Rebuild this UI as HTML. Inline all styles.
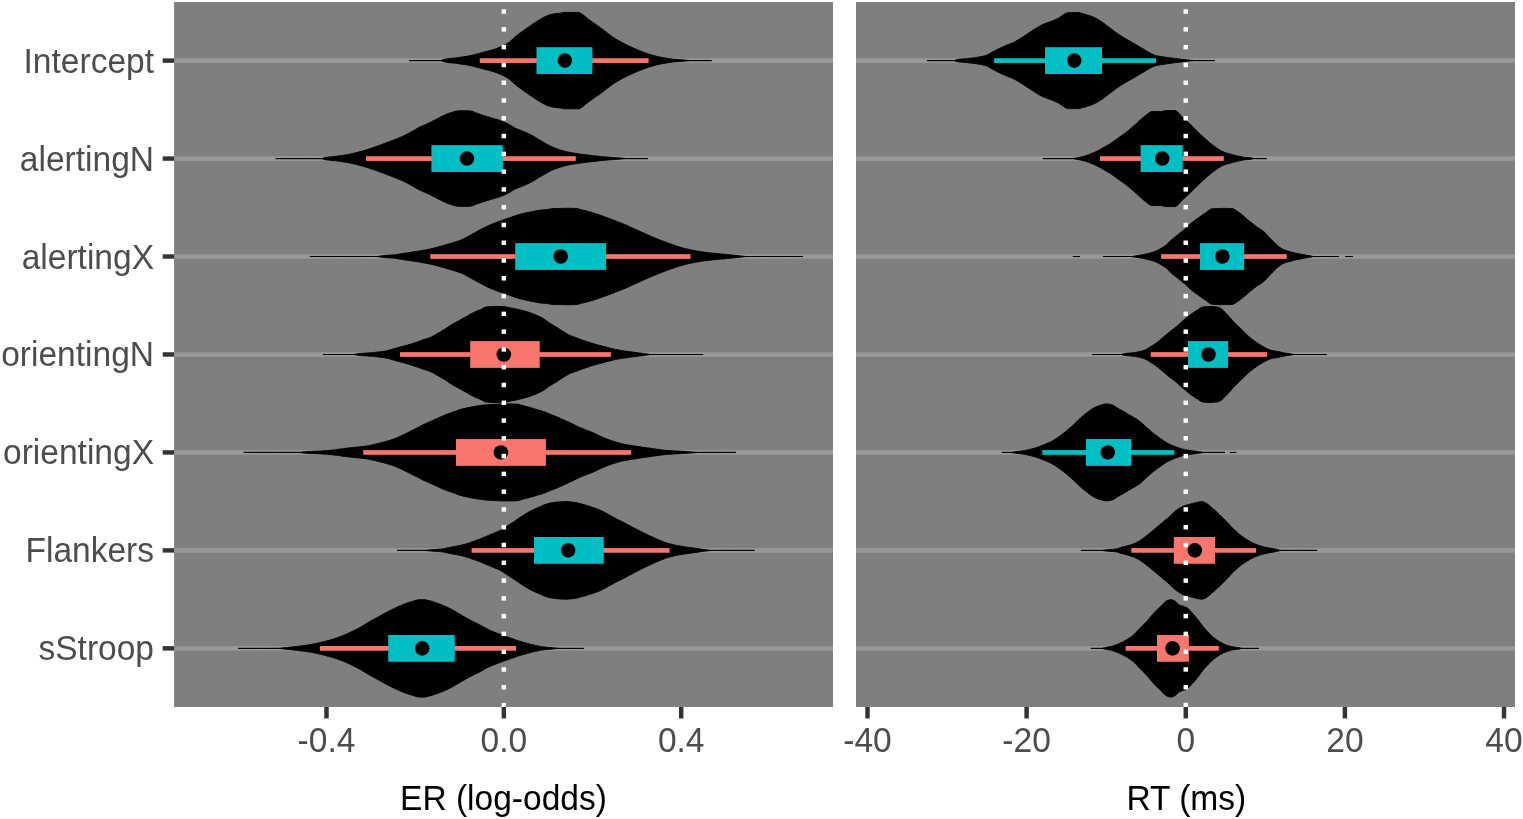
<!DOCTYPE html>
<html lang="en"><head><meta charset="utf-8"><title>Posterior estimates: ER (log-odds) and RT (ms)</title>
<style>html,body{margin:0;padding:0;background:#fff;}body{width:1523px;height:819px;overflow:hidden;}svg{display:block;}text{font-family:"Liberation Sans",Arial,Helvetica,sans-serif;font-size:33.33px;}.tk{fill:#4d4d4d;}.ti{fill:#000;}</style></head><body>
<svg width="1523" height="819" viewBox="0 0 1523 819">
<rect width="1523" height="819" fill="#fff"/>
<g>
<rect x="174.1" y="2.0" width="658.9" height="705.0" fill="#7f7f7f"/>
<rect x="174.1" y="58.38" width="658.9" height="4.45" fill="#999999"/>
<rect x="174.1" y="156.34" width="658.9" height="4.45" fill="#999999"/>
<rect x="174.1" y="254.29" width="658.9" height="4.45" fill="#999999"/>
<rect x="174.1" y="352.25" width="658.9" height="4.45" fill="#999999"/>
<rect x="174.1" y="450.21" width="658.9" height="4.45" fill="#999999"/>
<rect x="174.1" y="548.17" width="658.9" height="4.45" fill="#999999"/>
<rect x="174.1" y="646.13" width="658.9" height="4.45" fill="#999999"/>
<path d="M409.2,60.6 410.7,60.6 412.2,60.6 413.7,60.6 415.2,60.6 416.7,60.6 418.2,60.6 419.7,60.6 421.2,60.6 422.7,60.6 424.2,60.6 425.7,60.6 427.3,60.6 428.8,60.6 430.3,60.6 431.8,60.6 433.3,60.6 434.8,60.6 436.3,60.6 437.8,60.6 439.3,60.6 440.8,60.6 441.0,60.6 442.3,60.0 443.2,59.6 443.8,59.5 445.3,59.2 446.8,58.9 448.3,58.7 449.8,58.5 451.3,58.4 452.8,58.2 454.3,58.1 455.8,57.9 456.4,57.8 457.3,57.7 458.8,57.5 460.4,57.2 461.9,57.0 463.4,56.8 464.9,56.6 466.4,56.4 467.9,56.1 469.4,55.8 469.6,55.8 470.9,55.5 472.4,55.2 473.9,54.8 475.4,54.4 476.9,54.0 478.4,53.6 479.9,53.2 481.4,52.8 482.7,52.4 482.9,52.3 484.4,51.9 485.9,51.6 487.4,51.2 488.9,50.8 490.4,50.4 491.9,50.0 493.5,49.5 495.0,49.0 495.9,48.7 496.5,48.5 498.0,47.9 499.5,47.3 501.0,46.7 502.5,46.0 504.0,45.3 505.5,44.5 507.0,43.6 508.5,42.7 509.1,42.3 510.0,41.6 511.5,40.3 513.0,38.8 514.5,37.3 515.0,36.9 516.0,36.1 517.5,34.9 519.0,33.8 520.5,32.7 521.6,31.9 522.0,31.6 523.5,30.5 525.0,29.5 526.5,28.4 528.1,27.4 528.2,27.3 529.6,26.3 531.1,25.3 532.6,24.2 534.1,23.2 534.8,22.7 535.6,22.2 537.1,21.2 538.6,20.3 540.1,19.4 541.4,18.7 541.6,18.6 543.1,17.7 544.6,16.9 546.1,16.2 547.6,15.5 548.0,15.4 549.1,15.0 550.6,14.6 552.1,14.3 553.6,14.0 554.6,13.8 555.1,13.7 556.6,13.6 558.1,13.4 559.6,13.3 561.1,13.1 561.2,13.1 562.7,12.7 564.2,12.4 564.4,12.4 565.7,12.4 567.2,12.4 568.7,12.4 570.2,12.4 571.7,12.4 573.2,12.4 574.7,12.4 576.2,12.4 577.7,12.4 578.9,12.4 579.2,12.4 580.7,13.3 580.9,13.4 582.2,14.2 583.7,15.4 585.2,16.6 586.7,17.8 587.5,18.4 588.2,19.0 589.7,20.1 591.2,21.2 592.7,22.3 594.1,23.3 594.3,23.4 595.8,24.5 597.3,25.5 598.8,26.5 600.3,27.6 600.7,27.9 601.8,28.7 603.3,29.8 604.8,31.0 606.3,32.1 607.3,32.9 607.8,33.3 609.3,34.4 610.8,35.5 612.3,36.7 613.8,37.7 615.0,38.5 615.3,38.7 616.8,39.6 618.3,40.5 619.8,41.3 621.3,42.1 622.8,42.9 623.2,43.1 624.3,43.7 625.8,44.5 627.3,45.2 628.9,46.0 630.4,46.7 631.9,47.4 633.4,48.1 634.9,48.7 636.4,49.4 636.4,49.4 637.9,50.0 639.4,50.6 640.9,51.2 642.4,51.8 643.9,52.4 645.4,52.9 646.9,53.4 648.4,53.9 649.6,54.3 649.9,54.4 651.4,54.8 652.9,55.3 654.4,55.7 655.9,56.1 657.4,56.5 658.9,56.8 660.4,57.2 662.0,57.5 662.7,57.6 663.5,57.7 665.0,58.0 666.5,58.2 668.0,58.5 669.5,58.7 671.0,58.9 672.5,59.1 674.0,59.3 675.5,59.4 675.9,59.5 677.0,59.5 678.5,59.6 680.0,59.7 681.5,59.8 683.0,59.9 684.5,60.0 685.8,60.1 686.0,60.1 687.5,60.3 689.0,60.5 690.0,60.6 690.5,60.6 692.0,60.6 693.5,60.6 695.1,60.6 696.6,60.6 698.1,60.6 699.6,60.6 701.1,60.6 702.6,60.6 704.1,60.6 705.6,60.6 707.1,60.6 708.6,60.6 710.1,60.6 711.6,60.6 L711.6,60.6 710.1,60.6 708.6,60.6 707.1,60.6 705.6,60.6 704.1,60.6 702.6,60.6 701.1,60.6 699.6,60.6 698.1,60.6 696.6,60.6 695.1,60.6 693.5,60.6 692.0,60.6 690.5,60.6 690.0,60.6 689.0,60.7 687.5,60.9 686.0,61.1 685.8,61.1 684.5,61.2 683.0,61.3 681.5,61.4 680.0,61.5 678.5,61.6 677.0,61.7 675.9,61.8 675.5,61.8 674.0,61.9 672.5,62.1 671.0,62.3 669.5,62.5 668.0,62.7 666.5,63.0 665.0,63.2 663.5,63.5 662.7,63.6 662.0,63.7 660.4,64.0 658.9,64.4 657.4,64.7 655.9,65.1 654.4,65.5 652.9,65.9 651.4,66.4 649.9,66.8 649.6,66.9 648.4,67.3 646.9,67.8 645.4,68.3 643.9,68.8 642.4,69.4 640.9,70.0 639.4,70.6 637.9,71.2 636.4,71.8 636.4,71.8 634.9,72.5 633.4,73.1 631.9,73.8 630.4,74.5 628.9,75.2 627.3,76.0 625.8,76.7 624.3,77.5 623.2,78.1 622.8,78.3 621.3,79.1 619.8,79.9 618.3,80.7 616.8,81.6 615.3,82.5 615.0,82.7 613.8,83.5 612.3,84.5 610.8,85.7 609.3,86.8 607.8,87.9 607.3,88.3 606.3,89.1 604.8,90.2 603.3,91.4 601.8,92.5 600.7,93.3 600.3,93.6 598.8,94.7 597.3,95.7 595.8,96.7 594.3,97.8 594.1,97.9 592.7,98.9 591.2,100.0 589.7,101.1 588.2,102.2 587.5,102.8 586.7,103.4 585.2,104.6 583.7,105.8 582.2,107.0 580.9,107.8 580.7,107.9 579.2,108.8 578.9,108.8 577.7,108.8 576.2,108.8 574.7,108.8 573.2,108.8 571.7,108.8 570.2,108.8 568.7,108.8 567.2,108.8 565.7,108.8 564.4,108.8 564.2,108.8 562.7,108.5 561.2,108.1 561.1,108.1 559.6,107.9 558.1,107.8 556.6,107.6 555.1,107.5 554.6,107.4 553.6,107.2 552.1,106.9 550.6,106.6 549.1,106.2 548.0,105.8 547.6,105.7 546.1,105.0 544.6,104.3 543.1,103.5 541.6,102.6 541.4,102.5 540.1,101.8 538.6,100.9 537.1,100.0 535.6,99.0 534.8,98.5 534.1,98.0 532.6,97.0 531.1,95.9 529.6,94.9 528.2,93.9 528.1,93.8 526.5,92.8 525.0,91.7 523.5,90.7 522.0,89.6 521.6,89.3 520.5,88.5 519.0,87.4 517.5,86.3 516.0,85.1 515.0,84.3 514.5,83.9 513.0,82.4 511.5,80.9 510.0,79.6 509.1,78.9 508.5,78.5 507.0,77.6 505.5,76.7 504.0,75.9 502.5,75.2 501.0,74.5 499.5,73.9 498.0,73.3 496.5,72.7 495.9,72.5 495.0,72.2 493.5,71.7 491.9,71.2 490.4,70.8 488.9,70.4 487.4,70.0 485.9,69.6 484.4,69.3 482.9,68.9 482.7,68.8 481.4,68.4 479.9,68.0 478.4,67.6 476.9,67.2 475.4,66.8 473.9,66.4 472.4,66.0 470.9,65.7 469.6,65.4 469.4,65.4 467.9,65.1 466.4,64.8 464.9,64.6 463.4,64.4 461.9,64.2 460.4,64.0 458.8,63.7 457.3,63.5 456.4,63.4 455.8,63.3 454.3,63.1 452.8,63.0 451.3,62.8 449.8,62.7 448.3,62.5 446.8,62.3 445.3,62.0 443.8,61.7 443.2,61.6 442.3,61.2 441.0,60.6 440.8,60.6 439.3,60.6 437.8,60.6 436.3,60.6 434.8,60.6 433.3,60.6 431.8,60.6 430.3,60.6 428.8,60.6 427.3,60.6 425.7,60.6 424.2,60.6 422.7,60.6 421.2,60.6 419.7,60.6 418.2,60.6 416.7,60.6 415.2,60.6 413.7,60.6 412.2,60.6 410.7,60.6 409.2,60.6 Z" fill="#000" stroke="#000" stroke-width="1" stroke-linejoin="round"/>
<path d="M275.8,158.6 277.3,158.6 278.8,158.6 280.3,158.6 281.8,158.6 283.3,158.6 284.8,158.6 286.3,158.6 287.8,158.6 289.3,158.6 290.8,158.6 292.3,158.6 293.8,158.6 295.3,158.6 296.8,158.6 298.3,158.6 299.8,158.6 301.3,158.6 302.8,158.6 304.3,158.6 305.8,158.6 307.3,158.6 308.8,158.6 310.3,158.6 311.8,158.6 313.3,158.6 314.8,158.6 316.3,158.6 317.8,158.6 319.3,158.6 320.8,158.6 322.0,158.6 322.3,158.5 323.2,157.9 323.8,157.7 325.3,157.4 326.8,157.2 328.3,157.0 329.8,156.9 331.3,156.8 332.8,156.6 334.3,156.5 335.8,156.3 336.4,156.3 337.3,156.1 338.8,155.9 340.3,155.7 341.8,155.5 343.3,155.3 344.8,155.0 346.3,154.8 347.8,154.5 349.3,154.2 349.6,154.2 350.8,153.9 352.3,153.6 353.8,153.3 355.3,152.9 356.8,152.5 358.3,152.1 359.8,151.7 361.3,151.3 362.7,151.0 362.8,150.9 364.3,150.5 365.8,150.0 367.3,149.6 368.8,149.1 370.3,148.6 371.8,148.1 373.3,147.6 374.8,147.0 375.9,146.7 376.3,146.5 377.8,146.0 379.3,145.4 380.8,144.9 382.3,144.3 383.8,143.8 385.3,143.2 386.8,142.6 388.3,142.1 389.1,141.8 389.8,141.5 391.3,140.9 392.8,140.3 394.3,139.8 395.8,139.2 397.3,138.6 398.8,138.0 400.3,137.3 401.8,136.7 402.3,136.5 403.3,136.0 404.8,135.3 406.3,134.5 407.8,133.7 409.3,132.9 410.0,132.6 410.8,132.1 412.3,131.3 413.8,130.4 415.3,129.5 416.8,128.7 418.3,127.8 419.8,127.0 420.0,127.0 421.3,126.3 422.8,125.7 424.3,125.0 425.8,124.4 427.3,123.7 427.9,123.5 428.8,123.0 430.3,122.3 431.8,121.5 433.3,120.8 434.8,120.0 435.9,119.5 436.3,119.2 437.8,118.5 439.3,117.7 440.8,116.9 442.3,116.1 443.8,115.5 443.8,115.4 445.3,114.8 446.8,114.1 448.3,113.5 449.8,112.9 451.3,112.5 451.7,112.4 452.8,112.0 454.3,111.6 455.8,111.3 457.3,111.0 458.8,110.8 459.7,110.8 460.3,110.8 461.9,110.8 463.4,110.8 464.9,110.8 466.4,110.8 467.6,110.8 467.9,110.8 469.4,110.9 470.9,111.0 471.6,111.2 472.4,111.3 473.9,112.0 475.4,112.7 475.6,112.8 476.9,113.2 478.4,113.7 479.9,114.3 481.4,114.8 482.9,115.3 483.5,115.5 484.4,115.7 485.9,116.2 487.4,116.7 488.9,117.1 490.4,117.5 491.4,117.9 491.9,118.0 493.4,118.4 494.9,118.9 496.4,119.3 497.9,119.8 499.4,120.2 499.4,120.3 500.9,120.8 502.4,121.3 503.9,121.9 505.4,122.6 506.9,123.3 507.3,123.5 508.4,124.0 509.9,124.9 511.4,125.9 512.9,126.8 514.4,127.7 515.2,128.2 515.9,128.5 517.4,129.1 518.9,129.7 520.4,130.2 521.9,130.8 523.2,131.4 523.4,131.4 524.9,132.1 526.4,132.7 527.9,133.4 529.4,134.1 530.9,134.8 531.1,135.0 532.4,135.6 533.9,136.5 535.4,137.4 536.9,138.4 538.4,139.3 539.9,140.2 540.0,140.3 541.4,141.0 542.9,141.9 544.4,142.8 545.9,143.7 547.4,144.5 548.9,145.3 550.4,146.1 551.9,146.8 553.2,147.4 553.4,147.4 554.9,148.0 556.4,148.6 557.9,149.1 559.4,149.7 560.9,150.2 562.4,150.6 563.9,151.0 565.4,151.4 566.4,151.7 566.9,151.8 568.4,152.1 569.9,152.4 571.4,152.7 572.9,152.9 574.4,153.2 575.9,153.4 577.4,153.6 578.9,153.9 579.6,154.0 580.4,154.1 581.9,154.3 583.4,154.5 584.9,154.7 586.4,154.8 587.9,155.0 589.4,155.2 590.9,155.4 592.4,155.5 592.7,155.6 593.9,155.7 595.4,155.9 596.9,156.0 598.4,156.2 599.9,156.4 601.4,156.5 602.9,156.7 604.4,156.8 605.9,157.0 605.9,157.0 607.4,157.1 608.9,157.2 610.4,157.3 611.9,157.4 613.4,157.5 614.9,157.6 616.4,157.7 617.9,157.8 619.1,157.9 619.4,157.9 620.9,158.0 622.4,158.2 623.9,158.3 625.4,158.5 626.9,158.5 628.0,158.6 628.4,158.6 629.9,158.6 631.4,158.6 632.9,158.6 634.4,158.6 635.9,158.6 637.4,158.6 638.9,158.6 640.4,158.6 641.9,158.6 643.4,158.6 644.9,158.6 646.4,158.6 647.9,158.6 L647.9,158.6 646.4,158.6 644.9,158.6 643.4,158.6 641.9,158.6 640.4,158.6 638.9,158.6 637.4,158.6 635.9,158.6 634.4,158.6 632.9,158.6 631.4,158.6 629.9,158.6 628.4,158.6 628.0,158.6 626.9,158.6 625.4,158.7 623.9,158.8 622.4,158.9 620.9,159.1 619.4,159.2 619.1,159.3 617.9,159.3 616.4,159.4 614.9,159.5 613.4,159.6 611.9,159.7 610.4,159.8 608.9,159.9 607.4,160.0 605.9,160.2 605.9,160.2 604.4,160.3 602.9,160.4 601.4,160.6 599.9,160.7 598.4,160.9 596.9,161.1 595.4,161.3 593.9,161.4 592.7,161.6 592.4,161.6 590.9,161.8 589.4,161.9 587.9,162.1 586.4,162.3 584.9,162.5 583.4,162.7 581.9,162.8 580.4,163.0 579.6,163.2 578.9,163.3 577.4,163.5 575.9,163.7 574.4,163.9 572.9,164.2 571.4,164.5 569.9,164.7 568.4,165.0 566.9,165.4 566.4,165.5 565.4,165.7 563.9,166.1 562.4,166.5 560.9,167.0 559.4,167.5 557.9,168.0 556.4,168.5 554.9,169.1 553.4,169.7 553.2,169.8 551.9,170.3 550.4,171.0 548.9,171.8 547.4,172.6 545.9,173.5 544.4,174.3 542.9,175.2 541.4,176.1 540.0,176.9 539.9,176.9 538.4,177.8 536.9,178.7 535.4,179.7 533.9,180.6 532.4,181.5 531.1,182.2 530.9,182.3 529.4,183.0 527.9,183.7 526.4,184.4 524.9,185.0 523.4,185.7 523.2,185.8 521.9,186.3 520.4,186.9 518.9,187.4 517.4,188.0 515.9,188.7 515.2,189.0 514.4,189.4 512.9,190.3 511.4,191.2 509.9,192.2 508.4,193.1 507.3,193.7 506.9,193.9 505.4,194.6 503.9,195.2 502.4,195.8 500.9,196.3 499.4,196.9 499.4,196.9 497.9,197.4 496.4,197.8 494.9,198.3 493.4,198.7 491.9,199.1 491.4,199.3 490.4,199.6 488.9,200.0 487.4,200.5 485.9,200.9 484.4,201.4 483.5,201.7 482.9,201.9 481.4,202.4 479.9,202.9 478.4,203.4 476.9,203.9 475.6,204.4 475.4,204.5 473.9,205.1 472.4,205.8 471.6,206.0 470.9,206.1 469.4,206.3 467.9,206.4 467.6,206.4 466.4,206.4 464.9,206.4 463.4,206.4 461.9,206.4 460.3,206.4 459.7,206.4 458.8,206.3 457.3,206.2 455.8,205.9 454.3,205.5 452.8,205.1 451.7,204.8 451.3,204.7 449.8,204.2 448.3,203.6 446.8,203.0 445.3,202.3 443.8,201.7 443.8,201.7 442.3,201.0 440.8,200.2 439.3,199.5 437.8,198.7 436.3,197.9 435.9,197.7 434.8,197.1 433.3,196.4 431.8,195.6 430.3,194.8 428.8,194.1 427.9,193.7 427.3,193.4 425.8,192.7 424.3,192.1 422.8,191.5 421.3,190.8 420.0,190.2 419.8,190.1 418.3,189.3 416.8,188.5 415.3,187.6 413.8,186.7 412.3,185.9 410.8,185.0 410.0,184.6 409.3,184.2 407.8,183.4 406.3,182.6 404.8,181.9 403.3,181.1 402.3,180.7 401.8,180.5 400.3,179.8 398.8,179.2 397.3,178.5 395.8,178.0 394.3,177.4 392.8,176.8 391.3,176.2 389.8,175.6 389.1,175.4 388.3,175.1 386.8,174.5 385.3,173.9 383.8,173.3 382.3,172.8 380.8,172.2 379.3,171.7 377.8,171.1 376.3,170.6 375.9,170.5 374.8,170.1 373.3,169.6 371.8,169.1 370.3,168.5 368.8,168.0 367.3,167.6 365.8,167.1 364.3,166.6 362.8,166.2 362.7,166.2 361.3,165.8 359.8,165.4 358.3,165.0 356.8,164.6 355.3,164.2 353.8,163.9 352.3,163.5 350.8,163.2 349.6,163.0 349.3,162.9 347.8,162.6 346.3,162.4 344.8,162.1 343.3,161.9 341.8,161.6 340.3,161.4 338.8,161.2 337.3,161.0 336.4,160.9 335.8,160.8 334.3,160.6 332.8,160.5 331.3,160.4 329.8,160.2 328.3,160.1 326.8,159.9 325.3,159.7 323.8,159.4 323.2,159.3 322.3,158.7 322.0,158.6 320.8,158.6 319.3,158.6 317.8,158.6 316.3,158.6 314.8,158.6 313.3,158.6 311.8,158.6 310.3,158.6 308.8,158.6 307.3,158.6 305.8,158.6 304.3,158.6 302.8,158.6 301.3,158.6 299.8,158.6 298.3,158.6 296.8,158.6 295.3,158.6 293.8,158.6 292.3,158.6 290.8,158.6 289.3,158.6 287.8,158.6 286.3,158.6 284.8,158.6 283.3,158.6 281.8,158.6 280.3,158.6 278.8,158.6 277.3,158.6 275.8,158.6 Z" fill="#000" stroke="#000" stroke-width="1" stroke-linejoin="round"/>
<path d="M309.9,256.5 311.4,256.5 312.9,256.5 314.4,256.5 315.9,256.5 317.4,256.5 318.9,256.5 320.4,256.5 321.9,256.5 323.4,256.5 324.9,256.5 326.4,256.5 327.9,256.5 329.4,256.5 330.9,256.5 332.5,256.5 334.0,256.5 335.5,256.5 337.0,256.5 338.5,256.5 340.0,256.5 341.5,256.5 343.0,256.5 344.5,256.5 346.0,256.5 347.5,256.5 349.0,256.5 350.5,256.5 352.0,256.5 353.5,256.5 355.0,256.5 356.5,256.5 358.0,256.5 359.5,256.5 361.0,256.5 362.5,256.5 364.0,256.5 365.5,256.5 367.0,256.5 368.5,256.5 370.0,256.5 371.5,256.5 373.0,256.5 374.5,256.5 375.5,256.5 376.0,256.5 377.6,256.4 379.1,256.2 380.6,256.0 382.1,255.8 383.6,255.6 384.0,255.5 385.1,255.4 386.6,255.3 388.1,255.2 389.6,255.1 391.1,255.0 392.6,254.9 394.1,254.8 395.0,254.7 395.6,254.7 397.1,254.5 398.6,254.2 400.1,254.0 401.6,253.7 403.1,253.5 404.6,253.2 404.6,253.2 406.1,253.0 407.6,252.8 409.1,252.5 410.6,252.3 412.1,252.1 413.6,251.9 415.1,251.6 416.6,251.4 417.7,251.2 418.1,251.1 419.6,250.9 421.1,250.6 422.7,250.4 424.2,250.1 425.7,249.9 427.2,249.6 428.7,249.3 430.2,249.0 430.9,248.8 431.7,248.6 433.2,248.3 434.7,247.9 436.2,247.5 437.7,247.1 439.2,246.7 440.7,246.3 442.2,245.9 443.7,245.4 444.1,245.3 445.2,245.0 446.7,244.6 448.2,244.1 449.7,243.7 451.2,243.2 452.7,242.8 454.2,242.3 455.7,241.8 457.2,241.3 457.3,241.3 458.7,240.9 460.0,240.4 460.2,240.3 461.7,239.7 463.2,239.0 464.7,238.2 466.2,237.4 467.2,236.9 467.8,236.6 469.3,235.8 470.8,235.0 472.3,234.1 473.8,233.3 474.4,232.9 475.3,232.4 476.8,231.6 478.3,230.8 479.8,230.0 481.3,229.2 481.7,229.0 482.8,228.5 484.3,227.7 485.8,226.9 487.3,226.2 488.8,225.5 488.9,225.4 490.3,224.8 491.8,224.2 493.3,223.6 494.8,223.0 496.1,222.5 496.3,222.4 497.8,221.9 499.3,221.3 500.8,220.8 502.3,220.3 503.3,219.9 503.8,219.7 505.3,219.2 506.8,218.7 508.3,218.2 509.8,217.7 510.6,217.4 511.3,217.2 512.9,216.6 514.4,216.1 515.9,215.5 517.4,215.1 517.8,214.9 518.9,214.6 520.4,214.2 521.9,213.8 523.4,213.5 524.9,213.1 525.0,213.1 526.4,212.8 527.9,212.5 529.4,212.2 530.9,211.9 532.2,211.6 532.4,211.6 533.9,211.3 535.4,210.9 536.9,210.6 538.4,210.4 539.4,210.2 539.9,210.2 541.4,210.0 542.9,209.9 544.4,209.7 545.9,209.6 546.7,209.5 547.4,209.4 548.9,209.2 550.4,208.9 551.9,208.7 553.4,208.5 553.9,208.5 554.9,208.5 556.5,208.5 558.0,208.5 559.5,208.4 561.0,208.4 561.1,208.4 562.5,208.4 564.0,208.4 565.5,208.3 567.0,208.3 567.2,208.3 568.5,208.3 570.0,208.3 571.5,208.4 573.0,208.4 574.4,208.4 574.5,208.4 576.0,208.5 577.5,208.7 578.1,208.8 579.0,209.0 580.5,209.5 581.7,209.8 582.0,209.9 583.5,210.3 585.0,210.6 586.5,211.0 588.0,211.4 588.9,211.6 589.5,211.8 591.0,212.2 592.5,212.7 594.0,213.2 595.5,213.6 596.1,213.8 597.0,214.1 598.5,214.6 600.0,215.2 601.6,215.7 603.1,216.2 603.3,216.3 604.6,216.8 606.1,217.3 607.6,217.8 609.1,218.4 610.6,218.9 610.6,218.9 612.1,219.5 613.6,220.1 615.1,220.7 616.6,221.3 617.8,221.8 618.1,221.9 619.6,222.5 621.1,223.1 622.6,223.7 624.1,224.2 625.0,224.6 625.6,224.9 627.1,225.5 628.6,226.2 630.1,227.0 631.6,227.7 632.2,227.9 633.1,228.3 634.6,229.0 636.1,229.7 637.6,230.3 639.1,231.0 639.4,231.1 640.6,231.7 642.1,232.4 643.6,233.0 645.1,233.7 646.7,234.4 646.7,234.4 648.2,235.1 649.7,235.7 651.2,236.4 652.7,237.0 653.9,237.5 654.2,237.6 655.7,238.3 657.2,238.9 658.7,239.5 660.2,240.1 661.1,240.4 661.7,240.6 663.2,241.2 664.7,241.8 666.2,242.3 667.7,242.9 669.2,243.4 670.0,243.7 670.7,244.0 672.2,244.5 673.7,245.0 675.2,245.6 676.7,246.1 678.2,246.6 679.7,247.0 681.2,247.5 681.4,247.5 682.7,247.9 684.2,248.3 685.7,248.7 687.2,249.0 688.7,249.4 690.2,249.7 691.8,250.1 693.3,250.4 694.6,250.6 694.8,250.6 696.3,250.9 697.8,251.2 699.3,251.4 700.8,251.7 702.3,251.9 703.8,252.1 705.3,252.3 706.8,252.5 707.7,252.6 708.3,252.7 709.8,252.9 711.3,253.0 712.8,253.2 714.3,253.3 715.8,253.5 717.3,253.6 718.8,253.7 720.3,253.9 720.9,253.9 721.8,254.0 723.3,254.1 724.8,254.3 726.3,254.4 727.5,254.5 727.8,254.6 729.3,254.7 730.8,254.9 732.3,255.0 733.8,255.2 735.3,255.3 736.9,255.5 738.4,255.7 739.9,255.8 740.0,255.8 741.4,256.0 742.9,256.2 744.4,256.3 745.9,256.5 747.4,256.5 747.5,256.5 748.9,256.5 750.4,256.5 751.9,256.5 753.4,256.5 754.9,256.5 756.4,256.5 757.9,256.5 759.4,256.5 760.9,256.5 762.4,256.5 763.9,256.5 765.4,256.5 766.9,256.5 768.4,256.5 769.9,256.5 771.4,256.5 772.9,256.5 774.4,256.5 775.9,256.5 777.4,256.5 778.9,256.5 780.4,256.5 782.0,256.5 783.5,256.5 785.0,256.5 786.5,256.5 788.0,256.5 789.5,256.5 791.0,256.5 792.5,256.5 794.0,256.5 795.5,256.5 797.0,256.5 798.5,256.5 800.0,256.5 801.5,256.5 803.0,256.5 L803.0,256.5 801.5,256.5 800.0,256.5 798.5,256.5 797.0,256.5 795.5,256.5 794.0,256.5 792.5,256.5 791.0,256.5 789.5,256.5 788.0,256.5 786.5,256.5 785.0,256.5 783.5,256.5 782.0,256.5 780.4,256.5 778.9,256.5 777.4,256.5 775.9,256.5 774.4,256.5 772.9,256.5 771.4,256.5 769.9,256.5 768.4,256.5 766.9,256.5 765.4,256.5 763.9,256.5 762.4,256.5 760.9,256.5 759.4,256.5 757.9,256.5 756.4,256.5 754.9,256.5 753.4,256.5 751.9,256.5 750.4,256.5 748.9,256.5 747.5,256.5 747.4,256.5 745.9,256.6 744.4,256.7 742.9,256.9 741.4,257.1 740.0,257.2 739.9,257.2 738.4,257.4 736.9,257.5 735.3,257.7 733.8,257.9 732.3,258.0 730.8,258.2 729.3,258.3 727.8,258.5 727.5,258.5 726.3,258.6 724.8,258.8 723.3,258.9 721.8,259.0 720.9,259.1 720.3,259.2 718.8,259.3 717.3,259.5 715.8,259.6 714.3,259.7 712.8,259.9 711.3,260.0 709.8,260.2 708.3,260.4 707.7,260.4 706.8,260.5 705.3,260.7 703.8,260.9 702.3,261.1 700.8,261.4 699.3,261.6 697.8,261.9 696.3,262.1 694.8,262.4 694.6,262.4 693.3,262.7 691.8,263.0 690.2,263.3 688.7,263.6 687.2,264.0 685.7,264.4 684.2,264.8 682.7,265.2 681.4,265.5 681.2,265.6 679.7,266.0 678.2,266.5 676.7,267.0 675.2,267.5 673.7,268.0 672.2,268.5 670.7,269.1 670.0,269.3 669.2,269.6 667.7,270.1 666.2,270.7 664.7,271.3 663.2,271.8 661.7,272.4 661.1,272.6 660.2,273.0 658.7,273.6 657.2,274.2 655.7,274.8 654.2,275.4 653.9,275.5 652.7,276.0 651.2,276.7 649.7,277.3 648.2,278.0 646.7,278.6 646.7,278.6 645.1,279.3 643.6,280.0 642.1,280.7 640.6,281.4 639.4,281.9 639.1,282.0 637.6,282.7 636.1,283.4 634.6,284.0 633.1,284.7 632.2,285.1 631.6,285.4 630.1,286.1 628.6,286.8 627.1,287.5 625.6,288.2 625.0,288.4 624.1,288.8 622.6,289.4 621.1,290.0 619.6,290.5 618.1,291.1 617.8,291.2 616.6,291.7 615.1,292.3 613.6,292.9 612.1,293.5 610.6,294.1 610.6,294.1 609.1,294.7 607.6,295.2 606.1,295.8 604.6,296.3 603.3,296.7 603.1,296.8 601.6,297.3 600.0,297.9 598.5,298.4 597.0,298.9 596.1,299.2 595.5,299.4 594.0,299.9 592.5,300.4 591.0,300.8 589.5,301.2 588.9,301.4 588.0,301.7 586.5,302.0 585.0,302.4 583.5,302.8 582.0,303.1 581.7,303.2 580.5,303.6 579.0,304.0 578.1,304.2 577.5,304.3 576.0,304.5 574.5,304.6 574.4,304.6 573.0,304.7 571.5,304.7 570.0,304.7 568.5,304.7 567.2,304.7 567.0,304.7 565.5,304.7 564.0,304.7 562.5,304.6 561.1,304.6 561.0,304.6 559.5,304.6 558.0,304.6 556.5,304.6 554.9,304.5 553.9,304.5 553.4,304.5 551.9,304.4 550.4,304.1 548.9,303.9 547.4,303.6 546.7,303.5 545.9,303.4 544.4,303.3 542.9,303.2 541.4,303.0 539.9,302.9 539.4,302.8 538.4,302.7 536.9,302.4 535.4,302.1 533.9,301.8 532.4,301.5 532.2,301.4 530.9,301.2 529.4,300.9 527.9,300.5 526.4,300.2 525.0,299.9 524.9,299.9 523.4,299.5 521.9,299.2 520.4,298.8 518.9,298.4 517.8,298.1 517.4,298.0 515.9,297.5 514.4,297.0 512.9,296.4 511.3,295.9 510.6,295.6 509.8,295.4 508.3,294.8 506.8,294.3 505.3,293.8 503.8,293.3 503.3,293.1 502.3,292.8 500.8,292.2 499.3,291.7 497.8,291.2 496.3,290.6 496.1,290.5 494.8,290.0 493.3,289.4 491.8,288.9 490.3,288.2 488.9,287.6 488.8,287.6 487.3,286.9 485.8,286.1 484.3,285.4 482.8,284.6 481.7,284.0 481.3,283.8 479.8,283.0 478.3,282.2 476.8,281.4 475.3,280.6 474.4,280.1 473.8,279.8 472.3,278.9 470.8,278.1 469.3,277.2 467.8,276.4 467.2,276.1 466.2,275.6 464.7,274.8 463.2,274.1 461.7,273.4 460.2,272.7 460.0,272.6 458.7,272.2 457.3,271.7 457.2,271.7 455.7,271.2 454.2,270.7 452.7,270.3 451.2,269.8 449.7,269.4 448.2,268.9 446.7,268.5 445.2,268.0 444.1,267.7 443.7,267.6 442.2,267.2 440.7,266.8 439.2,266.3 437.7,265.9 436.2,265.5 434.7,265.1 433.2,264.7 431.7,264.4 430.9,264.2 430.2,264.1 428.7,263.8 427.2,263.5 425.7,263.2 424.2,262.9 422.7,262.7 421.1,262.4 419.6,262.1 418.1,261.9 417.7,261.8 416.6,261.6 415.1,261.4 413.6,261.2 412.1,260.9 410.6,260.7 409.1,260.5 407.6,260.3 406.1,260.1 404.6,259.8 404.6,259.8 403.1,259.6 401.6,259.3 400.1,259.1 398.6,258.8 397.1,258.6 395.6,258.4 395.0,258.3 394.1,258.2 392.6,258.1 391.1,258.0 389.6,257.9 388.1,257.8 386.6,257.7 385.1,257.6 384.0,257.5 383.6,257.5 382.1,257.3 380.6,257.1 379.1,256.8 377.6,256.6 376.0,256.5 375.5,256.5 374.5,256.5 373.0,256.5 371.5,256.5 370.0,256.5 368.5,256.5 367.0,256.5 365.5,256.5 364.0,256.5 362.5,256.5 361.0,256.5 359.5,256.5 358.0,256.5 356.5,256.5 355.0,256.5 353.5,256.5 352.0,256.5 350.5,256.5 349.0,256.5 347.5,256.5 346.0,256.5 344.5,256.5 343.0,256.5 341.5,256.5 340.0,256.5 338.5,256.5 337.0,256.5 335.5,256.5 334.0,256.5 332.5,256.5 330.9,256.5 329.4,256.5 327.9,256.5 326.4,256.5 324.9,256.5 323.4,256.5 321.9,256.5 320.4,256.5 318.9,256.5 317.4,256.5 315.9,256.5 314.4,256.5 312.9,256.5 311.4,256.5 309.9,256.5 Z" fill="#000" stroke="#000" stroke-width="1" stroke-linejoin="round"/>
<path d="M323.2,354.5 324.7,354.5 326.2,354.5 327.7,354.5 329.2,354.5 330.7,354.5 332.2,354.5 333.7,354.5 335.2,354.5 336.7,354.5 338.2,354.5 339.7,354.5 341.2,354.5 342.7,354.5 344.2,354.5 345.7,354.5 347.2,354.5 348.7,354.5 350.2,354.5 351.7,354.5 352.5,354.5 353.2,354.5 354.7,354.3 356.2,354.0 357.7,353.8 359.2,353.5 359.8,353.5 360.7,353.4 362.2,353.3 363.7,353.2 365.2,353.1 366.7,353.0 368.2,352.9 369.7,352.8 371.3,352.7 372.8,352.6 373.8,352.5 374.3,352.4 375.8,352.3 377.3,352.1 378.8,352.0 380.3,351.8 381.8,351.6 383.3,351.4 384.6,351.2 384.8,351.2 386.3,350.9 387.8,350.5 389.3,350.1 390.8,349.7 392.3,349.3 393.8,348.8 395.3,348.4 396.8,347.9 397.7,347.7 398.3,347.5 399.8,347.1 401.3,346.7 402.8,346.3 404.3,345.9 405.8,345.5 407.3,345.1 408.8,344.7 410.3,344.3 410.9,344.1 411.8,343.8 413.3,343.3 414.8,342.8 416.3,342.3 417.8,341.7 419.3,341.2 420.8,340.6 422.3,340.1 423.8,339.6 424.1,339.5 425.3,339.1 426.8,338.7 428.3,338.2 429.8,337.7 430.0,337.6 431.3,337.0 432.8,336.2 434.3,335.4 435.8,334.5 437.2,333.7 437.3,333.6 438.8,332.8 440.3,331.9 441.8,331.0 443.3,330.1 444.4,329.5 444.8,329.2 446.3,328.2 447.8,327.2 449.3,326.2 450.8,325.2 451.7,324.7 452.3,324.3 453.8,323.4 455.3,322.6 456.8,321.8 458.3,321.0 458.9,320.7 459.8,320.2 461.3,319.3 462.8,318.5 464.3,317.7 465.9,316.8 466.1,316.7 467.4,316.0 468.9,315.1 470.4,314.2 471.9,313.4 473.3,312.7 473.4,312.7 474.9,311.9 476.4,311.3 477.9,310.6 479.4,310.0 480.6,309.5 480.9,309.4 482.4,308.6 483.9,307.8 485.4,307.2 486.3,307.0 486.9,306.9 488.4,306.8 489.9,306.7 491.4,306.6 492.9,306.5 494.4,306.5 495.0,306.5 495.9,306.5 497.4,306.5 498.9,306.5 500.4,306.5 501.9,306.5 503.4,306.6 503.7,306.6 504.9,306.7 506.4,307.0 507.9,307.3 509.4,307.7 509.4,307.7 510.9,308.0 512.4,308.2 513.9,308.5 515.4,308.8 516.7,309.1 516.9,309.1 518.4,309.5 519.9,309.8 521.4,310.2 522.9,310.6 523.9,310.9 524.4,311.0 525.9,311.4 527.4,311.9 528.9,312.3 530.0,312.7 530.4,312.8 531.9,313.4 533.4,313.9 534.9,314.6 536.4,315.2 536.6,315.3 537.9,315.9 539.4,316.5 540.9,317.3 542.4,318.0 543.2,318.5 543.9,318.9 545.4,320.0 546.9,321.1 548.4,322.2 549.8,323.2 549.9,323.3 551.4,324.2 552.9,325.1 554.4,325.9 555.9,326.8 556.4,327.1 557.4,327.7 558.9,328.7 560.4,329.7 562.0,330.7 563.0,331.4 563.5,331.7 565.0,332.6 566.5,333.6 568.0,334.4 569.5,335.2 569.6,335.3 571.0,335.9 572.5,336.4 574.0,336.9 575.5,337.4 576.1,337.7 577.0,338.0 578.5,338.6 580.0,339.2 581.5,339.7 582.7,340.2 583.0,340.3 584.5,340.8 586.0,341.3 587.5,341.8 589.0,342.3 589.3,342.4 590.5,342.8 592.0,343.2 593.5,343.7 595.0,344.1 595.9,344.4 596.5,344.5 598.0,345.0 599.5,345.4 601.0,345.8 602.5,346.2 602.5,346.2 604.0,346.6 605.5,347.0 607.0,347.3 608.5,347.7 609.1,347.9 610.0,348.1 611.5,348.5 613.0,348.9 614.5,349.2 615.7,349.5 616.0,349.5 617.5,349.8 619.0,350.1 620.5,350.4 622.0,350.6 622.3,350.7 623.5,350.9 625.0,351.1 626.5,351.3 628.0,351.5 629.5,351.7 630.0,351.8 631.0,351.9 632.5,352.1 634.0,352.3 635.5,352.5 637.0,352.7 637.0,352.7 638.5,352.9 640.0,353.0 641.5,353.2 643.0,353.4 644.5,353.6 645.5,353.7 646.0,353.8 647.5,354.0 649.0,354.3 650.5,354.5 651.0,354.5 652.0,354.5 653.5,354.5 655.0,354.5 656.6,354.5 658.1,354.5 659.6,354.5 661.1,354.5 662.6,354.5 664.1,354.5 665.6,354.5 667.1,354.5 668.6,354.5 670.1,354.5 671.6,354.5 673.1,354.5 674.6,354.5 676.1,354.5 677.6,354.5 679.1,354.5 680.6,354.5 682.1,354.5 683.6,354.5 685.1,354.5 686.6,354.5 688.1,354.5 689.6,354.5 691.1,354.5 692.6,354.5 694.1,354.5 695.6,354.5 697.1,354.5 698.6,354.5 700.1,354.5 701.6,354.5 703.1,354.5 L703.1,354.5 701.6,354.5 700.1,354.5 698.6,354.5 697.1,354.5 695.6,354.5 694.1,354.5 692.6,354.5 691.1,354.5 689.6,354.5 688.1,354.5 686.6,354.5 685.1,354.5 683.6,354.5 682.1,354.5 680.6,354.5 679.1,354.5 677.6,354.5 676.1,354.5 674.6,354.5 673.1,354.5 671.6,354.5 670.1,354.5 668.6,354.5 667.1,354.5 665.6,354.5 664.1,354.5 662.6,354.5 661.1,354.5 659.6,354.5 658.1,354.5 656.6,354.5 655.0,354.5 653.5,354.5 652.0,354.5 651.0,354.5 650.5,354.5 649.0,354.7 647.5,354.9 646.0,355.2 645.5,355.3 644.5,355.4 643.0,355.6 641.5,355.8 640.0,355.9 638.5,356.1 637.0,356.3 637.0,356.3 635.5,356.5 634.0,356.7 632.5,356.8 631.0,357.0 630.0,357.2 629.5,357.2 628.0,357.4 626.5,357.7 625.0,357.9 623.5,358.1 622.3,358.3 622.0,358.3 620.5,358.6 619.0,358.8 617.5,359.1 616.0,359.4 615.7,359.5 614.5,359.7 613.0,360.1 611.5,360.5 610.0,360.9 609.1,361.1 608.5,361.2 607.0,361.6 605.5,362.0 604.0,362.4 602.5,362.8 602.5,362.8 601.0,363.2 599.5,363.6 598.0,364.0 596.5,364.4 595.9,364.6 595.0,364.8 593.5,365.3 592.0,365.7 590.5,366.2 589.3,366.6 589.0,366.7 587.5,367.2 586.0,367.7 584.5,368.2 583.0,368.7 582.7,368.8 581.5,369.2 580.0,369.8 578.5,370.4 577.0,371.0 576.1,371.3 575.5,371.5 574.0,372.0 572.5,372.6 571.0,373.1 569.6,373.7 569.5,373.7 568.0,374.5 566.5,375.4 565.0,376.3 563.5,377.3 563.0,377.6 562.0,378.2 560.4,379.2 558.9,380.2 557.4,381.2 556.4,381.9 555.9,382.2 554.4,383.0 552.9,383.9 551.4,384.8 549.9,385.7 549.8,385.8 548.4,386.7 546.9,387.9 545.4,389.0 543.9,390.0 543.2,390.5 542.4,390.9 540.9,391.7 539.4,392.4 537.9,393.1 536.6,393.7 536.4,393.8 534.9,394.4 533.4,395.0 531.9,395.6 530.4,396.1 530.0,396.3 528.9,396.6 527.4,397.1 525.9,397.5 524.4,397.9 523.9,398.1 522.9,398.3 521.4,398.7 519.9,399.1 518.4,399.5 516.9,399.8 516.7,399.9 515.4,400.2 513.9,400.4 512.4,400.7 510.9,401.0 509.4,401.3 509.4,401.3 507.9,401.6 506.4,402.0 504.9,402.3 503.7,402.4 503.4,402.4 501.9,402.4 500.4,402.4 498.9,402.5 497.4,402.5 495.9,402.5 495.0,402.5 494.4,402.5 492.9,402.4 491.4,402.4 489.9,402.3 488.4,402.2 486.9,402.0 486.3,402.0 485.4,401.8 483.9,401.2 482.4,400.4 480.9,399.6 480.6,399.5 479.4,398.9 477.9,398.3 476.4,397.7 474.9,397.0 473.4,396.3 473.3,396.3 471.9,395.5 470.4,394.7 468.9,393.9 467.4,393.0 466.1,392.3 465.9,392.1 464.3,391.3 462.8,390.5 461.3,389.6 459.8,388.8 458.9,388.3 458.3,388.0 456.8,387.2 455.3,386.3 453.8,385.5 452.3,384.7 451.7,384.3 450.8,383.7 449.3,382.8 447.8,381.7 446.3,380.7 444.8,379.7 444.4,379.5 443.3,378.8 441.8,377.9 440.3,377.1 438.8,376.2 437.3,375.3 437.2,375.3 435.8,374.5 434.3,373.6 432.8,372.7 431.3,372.0 430.0,371.4 429.8,371.3 428.3,370.8 426.8,370.3 425.3,369.9 424.1,369.5 423.8,369.4 422.3,368.9 420.8,368.3 419.3,367.8 417.8,367.2 416.3,366.7 414.8,366.2 413.3,365.7 411.8,365.2 410.9,364.9 410.3,364.7 408.8,364.3 407.3,363.8 405.8,363.4 404.3,363.0 402.8,362.6 401.3,362.2 399.8,361.8 398.3,361.4 397.7,361.3 396.8,361.0 395.3,360.6 393.8,360.1 392.3,359.7 390.8,359.2 389.3,358.8 387.8,358.4 386.3,358.1 384.8,357.8 384.6,357.8 383.3,357.6 381.8,357.4 380.3,357.2 378.8,357.0 377.3,356.8 375.8,356.7 374.3,356.5 373.8,356.5 372.8,356.4 371.3,356.3 369.7,356.2 368.2,356.1 366.7,356.0 365.2,355.9 363.7,355.8 362.2,355.7 360.7,355.6 359.8,355.5 359.2,355.4 357.7,355.2 356.2,354.9 354.7,354.7 353.2,354.5 352.5,354.5 351.7,354.5 350.2,354.5 348.7,354.5 347.2,354.5 345.7,354.5 344.2,354.5 342.7,354.5 341.2,354.5 339.7,354.5 338.2,354.5 336.7,354.5 335.2,354.5 333.7,354.5 332.2,354.5 330.7,354.5 329.2,354.5 327.7,354.5 326.2,354.5 324.7,354.5 323.2,354.5 Z" fill="#000" stroke="#000" stroke-width="1" stroke-linejoin="round"/>
<path d="M243.8,452.4 245.3,452.4 246.8,452.4 248.3,452.4 249.8,452.4 251.3,452.4 252.8,452.4 254.3,452.4 255.8,452.4 257.3,452.4 258.8,452.4 260.3,452.4 261.8,452.4 263.3,452.4 264.8,452.4 266.3,452.4 267.8,452.4 269.3,452.4 270.8,452.4 272.3,452.4 273.8,452.4 275.3,452.4 276.8,452.4 278.3,452.4 279.8,452.4 281.3,452.4 282.8,452.4 284.3,452.4 285.8,452.4 287.3,452.4 288.8,452.4 290.3,452.4 291.8,452.4 293.3,452.4 294.8,452.4 296.3,452.4 297.8,452.4 299.0,452.4 299.3,452.4 300.8,452.3 302.3,452.0 303.8,451.8 304.3,451.7 305.3,451.7 306.8,451.6 308.3,451.5 309.8,451.4 311.3,451.4 312.8,451.3 314.3,451.3 315.8,451.2 317.3,451.1 317.5,451.1 318.8,451.1 320.3,451.0 321.8,450.9 323.3,450.8 324.8,450.7 326.3,450.6 327.8,450.5 329.3,450.4 329.7,450.3 330.8,450.2 332.3,450.1 333.8,449.9 335.3,449.7 336.8,449.5 337.6,449.4 338.3,449.3 339.8,449.1 341.3,448.9 342.8,448.7 344.3,448.5 344.9,448.4 345.8,448.3 347.3,448.1 348.8,448.0 350.3,447.8 351.8,447.6 352.7,447.5 353.3,447.5 354.8,447.3 356.3,447.2 357.8,447.0 359.3,446.9 360.8,446.7 362.3,446.6 363.8,446.4 365.3,446.2 365.9,446.1 366.9,446.0 368.4,445.7 369.9,445.4 371.4,445.1 372.9,444.8 374.4,444.4 375.9,444.0 377.4,443.7 378.9,443.3 379.1,443.2 380.4,442.9 381.9,442.5 383.4,442.2 384.9,441.8 386.4,441.3 387.9,440.9 389.4,440.5 390.9,440.0 392.3,439.5 392.4,439.5 393.9,439.0 395.0,438.5 395.4,438.4 396.9,437.8 398.4,437.1 399.9,436.4 401.4,435.7 402.2,435.3 402.9,435.0 404.4,434.3 405.9,433.5 407.4,432.8 408.9,432.0 409.4,431.7 410.4,431.3 411.9,430.5 413.4,429.8 414.9,429.1 416.4,428.3 416.7,428.1 417.9,427.5 419.4,426.8 420.9,426.0 422.4,425.2 423.9,424.5 423.9,424.4 425.4,423.8 426.9,423.1 428.4,422.4 429.9,421.8 431.1,421.2 431.4,421.1 432.9,420.4 434.4,419.7 435.9,419.0 437.4,418.4 438.3,417.9 438.9,417.7 440.4,417.0 441.9,416.3 443.4,415.7 444.9,415.0 445.6,414.7 446.4,414.4 447.9,413.9 449.4,413.4 450.9,412.9 452.4,412.4 452.8,412.2 453.9,411.8 455.4,411.3 456.9,410.7 458.4,410.2 459.9,409.7 460.0,409.6 461.4,409.2 462.9,408.8 464.4,408.5 465.9,408.1 467.2,407.8 467.4,407.8 468.9,407.5 470.4,407.2 471.9,406.9 473.4,406.6 474.4,406.4 474.9,406.4 476.4,406.1 477.9,405.9 479.4,405.6 480.9,405.4 481.7,405.3 482.4,405.3 483.9,405.1 485.4,404.9 486.9,404.8 488.4,404.7 488.9,404.6 489.9,404.6 491.4,404.5 492.9,404.4 494.4,404.3 495.9,404.3 496.1,404.2 497.4,404.2 498.9,404.1 500.4,404.0 501.9,403.9 501.9,403.9 503.4,403.9 504.9,403.9 506.4,403.9 507.2,403.9 507.9,403.9 509.4,403.9 510.9,403.9 512.4,403.9 513.9,403.9 514.4,403.9 515.4,404.0 516.9,404.1 518.1,404.2 518.4,404.3 519.9,404.7 521.4,405.3 521.7,405.3 522.9,405.7 524.4,406.0 525.9,406.4 527.4,406.8 528.9,407.1 528.9,407.1 530.4,407.6 531.9,408.0 533.4,408.5 534.9,409.0 536.1,409.3 536.4,409.4 537.9,409.9 539.4,410.3 540.9,410.7 542.4,411.2 543.3,411.4 543.9,411.7 545.4,412.2 546.9,412.8 548.4,413.4 549.9,414.1 550.6,414.3 551.4,414.7 552.9,415.3 554.4,415.9 555.9,416.5 557.4,417.1 557.8,417.2 558.9,417.7 560.4,418.4 561.9,419.1 563.4,419.8 564.9,420.5 565.0,420.5 566.4,421.2 567.9,421.8 569.4,422.5 570.9,423.2 572.2,423.7 572.4,423.9 573.9,424.6 575.4,425.4 576.9,426.2 578.4,426.9 579.4,427.3 579.9,427.6 581.4,428.2 582.9,428.8 584.4,429.4 585.9,429.9 586.7,430.2 587.4,430.5 588.9,431.1 590.4,431.7 591.9,432.3 593.4,432.9 593.9,433.1 594.9,433.6 596.4,434.3 597.9,435.1 599.4,435.8 600.9,436.5 601.1,436.5 602.4,437.1 603.9,437.8 605.4,438.4 606.9,439.0 608.4,439.6 609.9,440.1 610.0,440.1 611.4,440.7 613.0,441.2 613.2,441.2 614.5,441.6 616.0,442.1 617.5,442.6 619.0,443.0 620.5,443.4 622.0,443.8 623.0,444.0 623.5,444.1 625.0,444.4 626.5,444.7 628.0,445.0 629.5,445.2 631.0,445.4 632.5,445.7 633.0,445.7 634.0,445.9 635.5,446.1 637.0,446.4 638.5,446.6 640.0,446.8 641.5,447.0 643.0,447.3 644.5,447.5 646.0,447.7 647.5,447.9 649.0,448.1 650.5,448.3 652.0,448.5 652.7,448.6 653.5,448.7 655.0,449.0 656.5,449.2 658.0,449.4 659.5,449.6 661.0,449.8 662.5,450.0 664.0,450.2 665.5,450.3 665.9,450.3 667.0,450.4 668.5,450.5 670.0,450.6 671.5,450.7 673.0,450.8 674.5,450.9 676.0,451.0 677.5,451.0 679.0,451.1 679.1,451.1 680.5,451.2 682.0,451.3 683.5,451.4 685.0,451.5 686.5,451.6 688.0,451.7 689.5,451.8 691.0,451.9 692.3,451.9 692.5,452.0 694.0,452.1 695.5,452.2 697.0,452.3 698.5,452.4 700.0,452.4 700.0,452.4 701.5,452.4 703.0,452.4 704.5,452.4 706.0,452.4 707.5,452.4 709.0,452.4 710.5,452.4 712.0,452.4 713.5,452.4 715.0,452.4 716.5,452.4 718.0,452.4 719.5,452.4 721.0,452.4 722.5,452.4 724.0,452.4 725.5,452.4 727.0,452.4 728.5,452.4 730.0,452.4 731.5,452.4 733.0,452.4 734.5,452.4 736.0,452.4 L736.0,452.4 734.5,452.4 733.0,452.4 731.5,452.4 730.0,452.4 728.5,452.4 727.0,452.4 725.5,452.4 724.0,452.4 722.5,452.4 721.0,452.4 719.5,452.4 718.0,452.4 716.5,452.4 715.0,452.4 713.5,452.4 712.0,452.4 710.5,452.4 709.0,452.4 707.5,452.4 706.0,452.4 704.5,452.4 703.0,452.4 701.5,452.4 700.0,452.4 700.0,452.4 698.5,452.5 697.0,452.6 695.5,452.7 694.0,452.8 692.5,452.9 692.3,452.9 691.0,453.0 689.5,453.1 688.0,453.2 686.5,453.3 685.0,453.4 683.5,453.5 682.0,453.6 680.5,453.7 679.1,453.7 679.0,453.7 677.5,453.8 676.0,453.9 674.5,454.0 673.0,454.1 671.5,454.2 670.0,454.3 668.5,454.3 667.0,454.5 665.9,454.5 665.5,454.6 664.0,454.7 662.5,454.9 661.0,455.1 659.5,455.3 658.0,455.5 656.5,455.7 655.0,455.9 653.5,456.1 652.7,456.2 652.0,456.3 650.5,456.5 649.0,456.8 647.5,457.0 646.0,457.2 644.5,457.4 643.0,457.6 641.5,457.8 640.0,458.1 638.5,458.3 637.0,458.5 635.5,458.8 634.0,459.0 633.0,459.1 632.5,459.2 631.0,459.5 629.5,459.7 628.0,459.9 626.5,460.2 625.0,460.4 623.5,460.7 623.0,460.8 622.0,461.1 620.5,461.5 619.0,461.9 617.5,462.3 616.0,462.8 614.5,463.2 613.2,463.6 613.0,463.7 611.4,464.2 610.0,464.7 609.9,464.8 608.4,465.3 606.9,465.9 605.4,466.5 603.9,467.1 602.4,467.8 601.1,468.3 600.9,468.4 599.4,469.1 597.9,469.8 596.4,470.6 594.9,471.3 593.9,471.7 593.4,471.9 591.9,472.6 590.4,473.2 588.9,473.8 587.4,474.3 586.7,474.6 585.9,474.9 584.4,475.5 582.9,476.1 581.4,476.7 579.9,477.3 579.4,477.5 578.4,478.0 576.9,478.7 575.4,479.5 573.9,480.3 572.4,481.0 572.2,481.1 570.9,481.7 569.4,482.4 567.9,483.0 566.4,483.7 565.0,484.3 564.9,484.4 563.4,485.1 561.9,485.8 560.4,486.5 558.9,487.1 557.8,487.6 557.4,487.8 555.9,488.4 554.4,489.0 552.9,489.6 551.4,490.2 550.6,490.5 549.9,490.8 548.4,491.4 546.9,492.1 545.4,492.7 543.9,493.2 543.3,493.4 542.4,493.7 540.9,494.2 539.4,494.6 537.9,495.0 536.4,495.4 536.1,495.5 534.9,495.9 533.4,496.4 531.9,496.8 530.4,497.3 528.9,497.7 528.9,497.7 527.4,498.1 525.9,498.5 524.4,498.8 522.9,499.2 521.7,499.5 521.4,499.6 519.9,500.2 518.4,500.6 518.1,500.6 516.9,500.8 515.4,500.9 514.4,500.9 513.9,500.9 512.4,500.9 510.9,500.9 509.4,500.9 507.9,500.9 507.2,500.9 506.4,500.9 504.9,500.9 503.4,500.9 501.9,500.9 501.9,500.9 500.4,500.9 498.9,500.8 497.4,500.7 496.1,500.6 495.9,500.6 494.4,500.6 492.9,500.5 491.4,500.4 489.9,500.3 488.9,500.2 488.4,500.2 486.9,500.1 485.4,499.9 483.9,499.8 482.4,499.6 481.7,499.5 480.9,499.4 479.4,499.2 477.9,499.0 476.4,498.8 474.9,498.5 474.4,498.4 473.4,498.3 471.9,498.0 470.4,497.7 468.9,497.4 467.4,497.1 467.2,497.0 465.9,496.7 464.4,496.4 462.9,496.0 461.4,495.6 460.0,495.2 459.9,495.2 458.4,494.7 456.9,494.2 455.4,493.6 453.9,493.0 452.8,492.6 452.4,492.5 450.9,492.0 449.4,491.5 447.9,491.0 446.4,490.4 445.6,490.1 444.9,489.9 443.4,489.2 441.9,488.6 440.4,487.9 438.9,487.2 438.3,486.9 437.4,486.5 435.9,485.8 434.4,485.1 432.9,484.5 431.4,483.8 431.1,483.6 429.9,483.1 428.4,482.4 426.9,481.8 425.4,481.1 423.9,480.4 423.9,480.4 422.4,479.7 420.9,478.9 419.4,478.1 417.9,477.3 416.7,476.7 416.4,476.6 414.9,475.8 413.4,475.1 411.9,474.4 410.4,473.6 409.4,473.1 408.9,472.9 407.4,472.1 405.9,471.4 404.4,470.6 402.9,469.9 402.2,469.5 401.4,469.1 399.9,468.5 398.4,467.8 396.9,467.1 395.4,466.5 395.0,466.3 393.9,465.9 392.4,465.4 392.3,465.3 390.9,464.9 389.4,464.4 387.9,464.0 386.4,463.5 384.9,463.1 383.4,462.7 381.9,462.3 380.4,462.0 379.1,461.6 378.9,461.6 377.4,461.2 375.9,460.8 374.4,460.5 372.9,460.1 371.4,459.8 369.9,459.4 368.4,459.1 366.9,458.9 365.9,458.7 365.3,458.7 363.8,458.5 362.3,458.3 360.8,458.1 359.3,458.0 357.8,457.8 356.3,457.7 354.8,457.6 353.3,457.4 352.7,457.3 351.8,457.2 350.3,457.1 348.8,456.9 347.3,456.7 345.8,456.6 344.9,456.4 344.3,456.4 342.8,456.2 341.3,456.0 339.8,455.7 338.3,455.5 337.6,455.4 336.8,455.3 335.3,455.2 333.8,455.0 332.3,454.8 330.8,454.6 329.7,454.5 329.3,454.5 327.8,454.4 326.3,454.3 324.8,454.2 323.3,454.1 321.8,454.0 320.3,453.9 318.8,453.8 317.5,453.7 317.3,453.7 315.8,453.7 314.3,453.6 312.8,453.5 311.3,453.5 309.8,453.4 308.3,453.4 306.8,453.3 305.3,453.2 304.3,453.1 303.8,453.1 302.3,452.9 300.8,452.6 299.3,452.4 299.0,452.4 297.8,452.4 296.3,452.4 294.8,452.4 293.3,452.4 291.8,452.4 290.3,452.4 288.8,452.4 287.3,452.4 285.8,452.4 284.3,452.4 282.8,452.4 281.3,452.4 279.8,452.4 278.3,452.4 276.8,452.4 275.3,452.4 273.8,452.4 272.3,452.4 270.8,452.4 269.3,452.4 267.8,452.4 266.3,452.4 264.8,452.4 263.3,452.4 261.8,452.4 260.3,452.4 258.8,452.4 257.3,452.4 255.8,452.4 254.3,452.4 252.8,452.4 251.3,452.4 249.8,452.4 248.3,452.4 246.8,452.4 245.3,452.4 243.8,452.4 Z" fill="#000" stroke="#000" stroke-width="1" stroke-linejoin="round"/>
<path d="M397.1,550.4 398.6,550.4 400.1,550.4 401.6,550.4 403.1,550.4 404.6,550.4 406.1,550.4 407.6,550.4 409.1,550.4 410.6,550.4 412.1,550.4 413.6,550.4 415.1,550.4 416.6,550.4 418.1,550.4 419.6,550.4 421.1,550.4 422.0,550.4 422.6,550.4 424.1,550.3 425.6,550.2 427.1,550.1 428.6,550.0 430.1,549.8 431.4,549.7 431.6,549.7 433.2,549.6 434.7,549.5 436.2,549.4 437.7,549.3 439.2,549.2 440.7,549.0 442.2,548.9 443.0,548.8 443.7,548.7 445.2,548.4 446.7,548.1 448.2,547.7 449.6,547.4 449.7,547.4 451.2,547.1 452.7,546.8 454.2,546.5 455.7,546.3 457.2,546.0 458.7,545.7 460.2,545.4 461.7,545.0 462.7,544.8 463.2,544.7 464.7,544.3 466.2,543.8 467.7,543.4 469.2,542.9 470.7,542.4 472.2,541.8 473.7,541.3 475.2,540.7 475.9,540.5 476.7,540.2 478.2,539.6 479.7,539.1 481.2,538.5 482.7,537.9 484.2,537.2 485.7,536.6 487.2,536.0 488.7,535.4 489.1,535.2 490.2,534.7 491.7,534.1 493.2,533.5 494.7,532.9 496.2,532.3 497.7,531.6 499.2,530.9 500.7,530.2 502.2,529.3 502.3,529.3 503.7,528.3 505.0,527.4 505.3,527.2 506.8,526.2 508.3,525.3 509.8,524.3 511.3,523.4 512.8,522.4 513.5,521.9 514.3,521.4 515.8,520.4 517.3,519.3 518.8,518.3 520.3,517.3 521.8,516.3 522.1,516.1 523.3,515.4 524.8,514.4 526.3,513.5 527.8,512.6 529.3,511.7 530.6,511.0 530.8,510.9 532.3,510.2 533.8,509.5 535.3,508.8 536.8,508.1 538.3,507.5 539.2,507.1 539.8,506.8 541.3,506.2 542.8,505.5 544.3,504.8 545.8,504.3 547.3,503.8 547.7,503.7 548.8,503.4 550.3,503.1 551.8,502.8 553.3,502.6 554.8,502.4 556.3,502.2 556.3,502.2 557.8,502.0 559.3,501.9 560.8,501.8 562.3,501.7 563.8,501.6 564.8,501.6 565.3,501.6 566.8,501.6 568.3,501.7 569.8,501.8 571.3,502.0 572.8,502.1 573.4,502.2 574.3,502.3 575.9,502.6 577.4,502.9 578.9,503.3 580.4,503.7 581.9,504.1 581.9,504.1 583.4,504.5 584.9,504.9 586.4,505.4 587.9,505.8 589.4,506.3 590.5,506.7 590.9,506.8 592.4,507.3 593.9,507.8 595.4,508.3 596.9,508.9 598.4,509.4 599.0,509.7 599.9,510.1 601.4,510.8 602.9,511.5 604.4,512.3 605.9,513.1 607.4,513.9 607.6,514.0 608.9,514.7 610.4,515.5 611.9,516.4 613.4,517.2 614.9,518.1 616.1,518.7 616.4,518.9 617.9,519.6 619.4,520.4 620.9,521.1 622.4,521.8 623.9,522.6 624.7,523.0 625.4,523.4 626.9,524.2 628.4,525.0 629.9,525.8 631.4,526.6 632.9,527.4 634.4,528.2 635.0,528.5 635.9,529.0 637.4,529.7 638.9,530.5 640.4,531.2 641.9,532.0 643.2,532.6 643.4,532.7 644.9,533.5 646.4,534.2 648.0,535.0 649.5,535.7 651.0,536.4 652.5,537.1 654.0,537.8 655.5,538.5 656.4,538.9 657.0,539.1 658.5,539.8 660.0,540.4 661.5,541.0 663.0,541.6 664.5,542.2 666.0,542.7 667.5,543.2 669.0,543.6 669.6,543.8 670.5,544.0 672.0,544.4 673.5,544.7 675.0,545.1 676.5,545.4 678.0,545.7 679.5,545.9 681.0,546.2 682.5,546.5 682.7,546.5 684.0,546.7 685.5,547.0 687.0,547.2 688.5,547.4 690.0,547.6 691.5,547.8 693.0,548.0 694.5,548.2 695.9,548.4 696.0,548.4 697.5,548.6 699.0,548.8 700.5,549.1 702.0,549.3 703.5,549.5 705.0,549.7 705.5,549.7 706.5,549.8 708.0,550.0 709.5,550.2 711.0,550.3 712.5,550.4 712.5,550.4 714.0,550.4 715.5,550.4 717.0,550.4 718.5,550.4 720.1,550.4 721.6,550.4 723.1,550.4 724.6,550.4 726.1,550.4 727.6,550.4 729.1,550.4 730.6,550.4 732.1,550.4 733.6,550.4 735.1,550.4 736.6,550.4 738.1,550.4 739.6,550.4 741.1,550.4 742.6,550.4 744.1,550.4 745.6,550.4 747.1,550.4 748.6,550.4 750.1,550.4 751.6,550.4 753.1,550.4 754.6,550.4 L754.6,550.4 753.1,550.4 751.6,550.4 750.1,550.4 748.6,550.4 747.1,550.4 745.6,550.4 744.1,550.4 742.6,550.4 741.1,550.4 739.6,550.4 738.1,550.4 736.6,550.4 735.1,550.4 733.6,550.4 732.1,550.4 730.6,550.4 729.1,550.4 727.6,550.4 726.1,550.4 724.6,550.4 723.1,550.4 721.6,550.4 720.1,550.4 718.5,550.4 717.0,550.4 715.5,550.4 714.0,550.4 712.5,550.4 712.5,550.4 711.0,550.5 709.5,550.6 708.0,550.8 706.5,551.0 705.5,551.1 705.0,551.1 703.5,551.3 702.0,551.5 700.5,551.7 699.0,552.0 697.5,552.2 696.0,552.4 695.9,552.4 694.5,552.6 693.0,552.8 691.5,553.0 690.0,553.2 688.5,553.4 687.0,553.6 685.5,553.8 684.0,554.1 682.7,554.3 682.5,554.3 681.0,554.6 679.5,554.9 678.0,555.1 676.5,555.4 675.0,555.7 673.5,556.1 672.0,556.4 670.5,556.8 669.6,557.0 669.0,557.2 667.5,557.6 666.0,558.1 664.5,558.6 663.0,559.2 661.5,559.8 660.0,560.4 658.5,561.0 657.0,561.7 656.4,561.9 655.5,562.3 654.0,563.0 652.5,563.7 651.0,564.4 649.5,565.1 648.0,565.8 646.4,566.6 644.9,567.3 643.4,568.1 643.2,568.2 641.9,568.8 640.4,569.6 638.9,570.3 637.4,571.1 635.9,571.8 635.0,572.3 634.4,572.6 632.9,573.4 631.4,574.2 629.9,575.0 628.4,575.8 626.9,576.6 625.4,577.4 624.7,577.8 623.9,578.2 622.4,579.0 620.9,579.7 619.4,580.4 617.9,581.2 616.4,581.9 616.1,582.1 614.9,582.7 613.4,583.6 611.9,584.4 610.4,585.3 608.9,586.1 607.6,586.8 607.4,586.9 605.9,587.7 604.4,588.5 602.9,589.3 601.4,590.0 599.9,590.7 599.0,591.1 598.4,591.4 596.9,591.9 595.4,592.5 593.9,593.0 592.4,593.5 590.9,594.0 590.5,594.1 589.4,594.5 587.9,595.0 586.4,595.4 584.9,595.9 583.4,596.3 581.9,596.7 581.9,596.7 580.4,597.1 578.9,597.5 577.4,597.9 575.9,598.2 574.3,598.5 573.4,598.6 572.8,598.7 571.3,598.8 569.8,599.0 568.3,599.1 566.8,599.2 565.3,599.2 564.8,599.2 563.8,599.2 562.3,599.1 560.8,599.0 559.3,598.9 557.8,598.8 556.3,598.6 556.3,598.6 554.8,598.4 553.3,598.2 551.8,598.0 550.3,597.7 548.8,597.4 547.7,597.1 547.3,597.0 545.8,596.5 544.3,596.0 542.8,595.3 541.3,594.6 539.8,594.0 539.2,593.7 538.3,593.3 536.8,592.7 535.3,592.0 533.8,591.3 532.3,590.6 530.8,589.9 530.6,589.8 529.3,589.1 527.8,588.2 526.3,587.3 524.8,586.4 523.3,585.4 522.1,584.7 521.8,584.5 520.3,583.5 518.8,582.5 517.3,581.5 515.8,580.4 514.3,579.4 513.5,578.9 512.8,578.4 511.3,577.4 509.8,576.5 508.3,575.5 506.8,574.6 505.3,573.6 505.0,573.4 503.7,572.5 502.3,571.5 502.2,571.5 500.7,570.6 499.2,569.9 497.7,569.2 496.2,568.5 494.7,567.9 493.2,567.3 491.7,566.7 490.2,566.1 489.1,565.6 488.7,565.4 487.2,564.8 485.7,564.2 484.2,563.6 482.7,562.9 481.2,562.3 479.7,561.7 478.2,561.2 476.7,560.6 475.9,560.3 475.2,560.1 473.7,559.5 472.2,559.0 470.7,558.4 469.2,557.9 467.7,557.4 466.2,557.0 464.7,556.5 463.2,556.1 462.7,556.0 461.7,555.8 460.2,555.4 458.7,555.1 457.2,554.8 455.7,554.5 454.2,554.3 452.7,554.0 451.2,553.7 449.7,553.4 449.6,553.4 448.2,553.1 446.7,552.7 445.2,552.4 443.7,552.1 443.0,552.0 442.2,551.9 440.7,551.8 439.2,551.6 437.7,551.5 436.2,551.4 434.7,551.3 433.2,551.2 431.6,551.1 431.4,551.1 430.1,551.0 428.6,550.8 427.1,550.7 425.6,550.6 424.1,550.5 422.6,550.4 422.0,550.4 421.1,550.4 419.6,550.4 418.1,550.4 416.6,550.4 415.1,550.4 413.6,550.4 412.1,550.4 410.6,550.4 409.1,550.4 407.6,550.4 406.1,550.4 404.6,550.4 403.1,550.4 401.6,550.4 400.1,550.4 398.6,550.4 397.1,550.4 Z" fill="#000" stroke="#000" stroke-width="1" stroke-linejoin="round"/>
<path d="M238.2,648.4 239.7,648.4 241.2,648.4 242.7,648.4 244.2,648.4 245.7,648.4 247.2,648.4 248.7,648.4 250.2,648.4 251.7,648.4 253.2,648.4 254.7,648.4 256.2,648.4 257.7,648.4 259.2,648.4 260.7,648.4 262.2,648.4 263.8,648.4 265.3,648.4 266.8,648.4 268.3,648.4 269.8,648.4 271.3,648.4 272.8,648.4 274.3,648.4 275.8,648.4 277.0,648.4 277.3,648.4 278.8,648.3 280.3,648.2 281.8,648.0 283.3,647.8 284.8,647.7 284.8,647.7 286.3,647.5 287.8,647.4 289.3,647.2 290.8,647.1 292.3,646.9 293.8,646.7 295.3,646.6 296.8,646.4 298.3,646.2 299.6,646.1 299.8,646.0 301.3,645.9 302.8,645.7 304.3,645.5 305.8,645.3 307.3,645.1 308.8,644.8 310.3,644.6 311.1,644.5 311.8,644.3 313.4,644.0 314.9,643.7 316.4,643.4 317.7,643.1 317.9,643.0 319.4,642.7 320.9,642.3 322.4,642.0 323.9,641.6 325.4,641.2 326.9,640.9 328.4,640.5 329.9,640.1 330.9,639.8 331.4,639.6 332.9,639.2 334.4,638.7 335.9,638.2 337.4,637.7 338.9,637.1 340.4,636.6 341.9,636.0 343.4,635.4 344.1,635.2 344.9,634.8 346.4,634.2 347.9,633.5 349.4,632.8 350.9,632.1 352.4,631.3 353.9,630.6 355.4,629.8 356.9,629.0 357.3,628.9 358.4,628.3 359.9,627.5 360.0,627.5 361.4,626.6 363.0,625.7 364.5,624.8 366.0,623.8 367.5,622.9 368.5,622.3 369.0,622.0 370.5,621.1 372.0,620.3 373.5,619.5 375.0,618.7 376.5,617.9 377.1,617.6 378.0,617.1 379.5,616.2 381.0,615.4 382.5,614.5 384.0,613.7 385.5,612.9 385.6,612.9 387.0,612.1 388.5,611.4 390.0,610.6 391.5,609.9 393.0,609.1 394.2,608.6 394.5,608.4 396.0,607.7 397.5,607.0 399.0,606.3 400.5,605.7 402.0,605.0 402.7,604.8 403.5,604.4 405.0,603.9 406.5,603.3 408.0,602.8 409.5,602.3 411.0,601.8 411.3,601.8 412.6,601.4 414.1,600.9 415.6,600.4 417.1,600.0 418.6,599.7 419.8,599.7 420.1,599.7 421.6,599.7 423.1,599.7 424.1,599.7 424.6,599.7 426.1,599.9 427.6,600.3 428.4,600.5 429.1,600.6 430.6,601.0 432.1,601.5 433.6,601.9 435.1,602.4 436.6,603.0 436.9,603.1 438.1,603.5 439.6,604.0 441.1,604.6 442.6,605.2 444.1,605.9 445.5,606.5 445.6,606.5 447.1,607.2 448.6,607.9 450.1,608.7 451.6,609.5 453.1,610.3 454.0,610.8 454.6,611.1 456.1,612.0 457.6,612.9 459.1,613.8 460.7,614.7 462.2,615.6 462.6,615.9 463.7,616.5 465.2,617.3 466.7,618.2 468.2,619.0 469.7,619.8 471.1,620.6 471.2,620.6 472.7,621.4 474.2,622.1 475.7,622.9 477.2,623.6 478.7,624.3 479.7,624.9 480.2,625.1 481.7,625.9 483.2,626.8 484.7,627.6 486.2,628.4 487.7,629.2 489.2,630.0 490.0,630.4 490.7,630.7 492.2,631.3 493.2,631.7 493.7,631.9 495.2,632.4 496.7,633.0 498.2,633.6 499.7,634.1 501.2,634.7 502.7,635.2 504.2,635.8 505.7,636.3 506.4,636.6 507.2,636.9 508.7,637.4 510.3,638.0 511.8,638.5 513.3,639.0 514.8,639.6 516.3,640.1 517.8,640.6 519.3,641.1 519.6,641.2 520.8,641.5 522.3,642.0 523.8,642.4 525.3,642.8 526.8,643.3 528.3,643.7 529.8,644.1 531.3,644.4 532.7,644.8 532.8,644.8 534.3,645.1 535.8,645.5 537.3,645.8 538.8,646.1 540.3,646.4 541.8,646.7 542.6,646.8 543.3,646.8 544.8,647.0 546.3,647.1 547.8,647.3 549.3,647.4 550.8,647.5 552.3,647.6 552.5,647.7 553.8,647.8 555.3,648.0 556.8,648.1 558.3,648.3 559.9,648.4 560.4,648.4 561.4,648.4 562.9,648.4 564.4,648.4 565.9,648.4 567.4,648.4 568.9,648.4 570.4,648.4 571.9,648.4 573.4,648.4 574.9,648.4 576.4,648.4 577.9,648.4 579.4,648.4 580.9,648.4 582.4,648.4 583.9,648.4 L583.9,648.4 582.4,648.4 580.9,648.4 579.4,648.4 577.9,648.4 576.4,648.4 574.9,648.4 573.4,648.4 571.9,648.4 570.4,648.4 568.9,648.4 567.4,648.4 565.9,648.4 564.4,648.4 562.9,648.4 561.4,648.4 560.4,648.4 559.9,648.4 558.3,648.4 556.8,648.6 555.3,648.7 553.8,648.9 552.5,649.1 552.3,649.1 550.8,649.2 549.3,649.3 547.8,649.4 546.3,649.6 544.8,649.7 543.3,649.9 542.6,650.0 541.8,650.1 540.3,650.3 538.8,650.6 537.3,650.9 535.8,651.2 534.3,651.6 532.8,651.9 532.7,652.0 531.3,652.3 529.8,652.7 528.3,653.1 526.8,653.5 525.3,653.9 523.8,654.3 522.3,654.8 520.8,655.2 519.6,655.6 519.3,655.7 517.8,656.1 516.3,656.6 514.8,657.2 513.3,657.7 511.8,658.2 510.3,658.8 508.7,659.3 507.2,659.9 506.4,660.2 505.7,660.4 504.2,660.9 502.7,661.5 501.2,662.0 499.7,662.6 498.2,663.1 496.7,663.7 495.2,664.3 493.7,664.9 493.2,665.1 492.2,665.4 490.7,666.1 490.0,666.4 489.2,666.7 487.7,667.5 486.2,668.3 484.7,669.1 483.2,670.0 481.7,670.8 480.2,671.6 479.7,671.9 478.7,672.4 477.2,673.1 475.7,673.9 474.2,674.6 472.7,675.3 471.2,676.1 471.1,676.2 469.7,676.9 468.2,677.7 466.7,678.6 465.2,679.4 463.7,680.3 462.6,680.9 462.2,681.1 460.7,682.0 459.1,682.9 457.6,683.8 456.1,684.7 454.6,685.6 454.0,686.0 453.1,686.4 451.6,687.2 450.1,688.0 448.6,688.8 447.1,689.5 445.6,690.2 445.5,690.3 444.1,690.9 442.6,691.5 441.1,692.1 439.6,692.7 438.1,693.2 436.9,693.7 436.6,693.8 435.1,694.3 433.6,694.8 432.1,695.3 430.6,695.7 429.1,696.1 428.4,696.3 427.6,696.5 426.1,696.8 424.6,697.0 424.1,697.1 423.1,697.1 421.6,697.1 420.1,697.1 419.8,697.1 418.6,697.0 417.1,696.7 415.6,696.3 414.1,695.8 412.6,695.3 411.3,695.0 411.0,694.9 409.5,694.4 408.0,693.9 406.5,693.4 405.0,692.9 403.5,692.3 402.7,692.0 402.0,691.7 400.5,691.1 399.0,690.4 397.5,689.7 396.0,689.0 394.5,688.3 394.2,688.2 393.0,687.6 391.5,686.9 390.0,686.1 388.5,685.4 387.0,684.6 385.6,683.9 385.5,683.8 384.0,683.0 382.5,682.2 381.0,681.3 379.5,680.5 378.0,679.6 377.1,679.2 376.5,678.8 375.0,678.0 373.5,677.2 372.0,676.4 370.5,675.6 369.0,674.7 368.5,674.5 367.5,673.8 366.0,672.9 364.5,672.0 363.0,671.0 361.4,670.1 360.0,669.3 359.9,669.2 358.4,668.4 357.3,667.9 356.9,667.7 355.4,666.9 353.9,666.2 352.4,665.4 350.9,664.7 349.4,663.9 347.9,663.2 346.4,662.5 344.9,661.9 344.1,661.6 343.4,661.3 341.9,660.7 340.4,660.1 338.9,659.6 337.4,659.0 335.9,658.5 334.4,658.0 332.9,657.6 331.4,657.1 330.9,657.0 329.9,656.7 328.4,656.3 326.9,655.9 325.4,655.5 323.9,655.1 322.4,654.7 320.9,654.4 319.4,654.0 317.9,653.7 317.7,653.7 316.4,653.4 314.9,653.0 313.4,652.7 311.8,652.4 311.1,652.3 310.3,652.1 308.8,651.9 307.3,651.7 305.8,651.5 304.3,651.2 302.8,651.1 301.3,650.9 299.8,650.7 299.6,650.7 298.3,650.5 296.8,650.3 295.3,650.2 293.8,650.0 292.3,649.8 290.8,649.7 289.3,649.5 287.8,649.4 286.3,649.2 284.8,649.1 284.8,649.1 283.3,648.9 281.8,648.7 280.3,648.6 278.8,648.4 277.3,648.4 277.0,648.4 275.8,648.4 274.3,648.4 272.8,648.4 271.3,648.4 269.8,648.4 268.3,648.4 266.8,648.4 265.3,648.4 263.8,648.4 262.2,648.4 260.7,648.4 259.2,648.4 257.7,648.4 256.2,648.4 254.7,648.4 253.2,648.4 251.7,648.4 250.2,648.4 248.7,648.4 247.2,648.4 245.7,648.4 244.2,648.4 242.7,648.4 241.2,648.4 239.7,648.4 238.2,648.4 Z" fill="#000" stroke="#000" stroke-width="1" stroke-linejoin="round"/>
<rect x="479.8" y="58.25" width="168.8" height="4.7" fill="#F8766D"/>
<rect x="536.5" y="47.20" width="55.8" height="26.8" fill="#00BFC4"/>
<circle cx="564.8" cy="60.60" r="7.3" fill="#000"/>
<rect x="366.1" y="156.21" width="209.7" height="4.7" fill="#F8766D"/>
<rect x="431.4" y="145.16" width="71.4" height="26.8" fill="#00BFC4"/>
<circle cx="466.9" cy="158.56" r="7.3" fill="#000"/>
<rect x="430.3" y="254.17" width="260.2" height="4.7" fill="#F8766D"/>
<rect x="515.2" y="243.12" width="90.9" height="26.8" fill="#00BFC4"/>
<circle cx="560.6" cy="256.52" r="7.3" fill="#000"/>
<rect x="400.0" y="352.13" width="210.9" height="4.7" fill="#F8766D"/>
<rect x="470.2" y="341.08" width="69.5" height="26.8" fill="#F8766D"/>
<circle cx="503.8" cy="354.48" r="7.3" fill="#000"/>
<rect x="363.2" y="450.09" width="268.0" height="4.7" fill="#F8766D"/>
<rect x="456.0" y="439.04" width="89.9" height="26.8" fill="#F8766D"/>
<circle cx="500.9" cy="452.44" r="7.3" fill="#000"/>
<rect x="471.6" y="548.05" width="197.9" height="4.7" fill="#F8766D"/>
<rect x="534.0" y="537.00" width="69.6" height="26.8" fill="#00BFC4"/>
<circle cx="568.1" cy="550.40" r="7.3" fill="#000"/>
<rect x="319.9" y="646.01" width="196.1" height="4.7" fill="#F8766D"/>
<rect x="388.2" y="634.96" width="66.5" height="26.8" fill="#00BFC4"/>
<circle cx="422.1" cy="648.36" r="7.3" fill="#000"/>
<rect x="501.62" y="702.80" width="4.45" height="4.20" fill="#fff"/>
<rect x="501.62" y="685.02" width="4.45" height="4.45" fill="#fff"/>
<rect x="501.62" y="667.24" width="4.45" height="4.45" fill="#fff"/>
<rect x="501.62" y="649.46" width="4.45" height="4.45" fill="#fff"/>
<rect x="501.62" y="631.68" width="4.45" height="4.45" fill="#fff"/>
<rect x="501.62" y="613.90" width="4.45" height="4.45" fill="#fff"/>
<rect x="501.62" y="596.12" width="4.45" height="4.45" fill="#fff"/>
<rect x="501.62" y="578.34" width="4.45" height="4.45" fill="#fff"/>
<rect x="501.62" y="560.56" width="4.45" height="4.45" fill="#fff"/>
<rect x="501.62" y="542.78" width="4.45" height="4.45" fill="#fff"/>
<rect x="501.62" y="525.00" width="4.45" height="4.45" fill="#fff"/>
<rect x="501.62" y="507.22" width="4.45" height="4.45" fill="#fff"/>
<rect x="501.62" y="489.44" width="4.45" height="4.45" fill="#fff"/>
<rect x="501.62" y="471.66" width="4.45" height="4.45" fill="#fff"/>
<rect x="501.62" y="453.88" width="4.45" height="4.45" fill="#fff"/>
<rect x="501.62" y="436.10" width="4.45" height="4.45" fill="#fff"/>
<rect x="501.62" y="418.32" width="4.45" height="4.45" fill="#fff"/>
<rect x="501.62" y="400.54" width="4.45" height="4.45" fill="#fff"/>
<rect x="501.62" y="382.76" width="4.45" height="4.45" fill="#fff"/>
<rect x="501.62" y="364.98" width="4.45" height="4.45" fill="#fff"/>
<rect x="501.62" y="347.20" width="4.45" height="4.45" fill="#fff"/>
<rect x="501.62" y="329.42" width="4.45" height="4.45" fill="#fff"/>
<rect x="501.62" y="311.64" width="4.45" height="4.45" fill="#fff"/>
<rect x="501.62" y="293.86" width="4.45" height="4.45" fill="#fff"/>
<rect x="501.62" y="276.08" width="4.45" height="4.45" fill="#fff"/>
<rect x="501.62" y="258.30" width="4.45" height="4.45" fill="#fff"/>
<rect x="501.62" y="240.52" width="4.45" height="4.45" fill="#fff"/>
<rect x="501.62" y="222.74" width="4.45" height="4.45" fill="#fff"/>
<rect x="501.62" y="204.96" width="4.45" height="4.45" fill="#fff"/>
<rect x="501.62" y="187.18" width="4.45" height="4.45" fill="#fff"/>
<rect x="501.62" y="169.40" width="4.45" height="4.45" fill="#fff"/>
<rect x="501.62" y="151.62" width="4.45" height="4.45" fill="#fff"/>
<rect x="501.62" y="133.84" width="4.45" height="4.45" fill="#fff"/>
<rect x="501.62" y="116.06" width="4.45" height="4.45" fill="#fff"/>
<rect x="501.62" y="98.28" width="4.45" height="4.45" fill="#fff"/>
<rect x="501.62" y="80.50" width="4.45" height="4.45" fill="#fff"/>
<rect x="501.62" y="62.72" width="4.45" height="4.45" fill="#fff"/>
<rect x="501.62" y="44.94" width="4.45" height="4.45" fill="#fff"/>
<rect x="501.62" y="27.16" width="4.45" height="4.45" fill="#fff"/>
<rect x="501.62" y="9.38" width="4.45" height="4.45" fill="#fff"/>
</g>
<g>
<rect x="856.0" y="2.0" width="659.0" height="705.0" fill="#7f7f7f"/>
<rect x="856.0" y="58.38" width="659.0" height="4.45" fill="#999999"/>
<rect x="856.0" y="156.34" width="659.0" height="4.45" fill="#999999"/>
<rect x="856.0" y="254.29" width="659.0" height="4.45" fill="#999999"/>
<rect x="856.0" y="352.25" width="659.0" height="4.45" fill="#999999"/>
<rect x="856.0" y="450.21" width="659.0" height="4.45" fill="#999999"/>
<rect x="856.0" y="548.17" width="659.0" height="4.45" fill="#999999"/>
<rect x="856.0" y="646.13" width="659.0" height="4.45" fill="#999999"/>
<path d="M927.1,60.6 928.6,60.6 930.1,60.6 931.6,60.6 933.1,60.6 934.6,60.6 936.1,60.6 937.6,60.6 939.1,60.6 940.7,60.6 942.2,60.6 943.7,60.6 945.2,60.6 946.7,60.6 948.2,60.6 949.7,60.6 951.2,60.6 952.7,60.6 954.2,60.6 955.0,60.6 955.6,59.9 955.7,59.8 957.2,59.5 958.7,59.3 960.2,59.1 961.7,59.0 963.2,58.9 964.7,58.8 966.1,58.7 966.2,58.7 967.8,58.5 969.3,58.3 970.8,58.2 972.3,58.0 973.8,57.8 975.3,57.6 976.0,57.5 976.8,57.4 978.3,57.1 979.8,56.9 981.3,56.6 982.8,56.3 984.3,55.9 985.8,55.5 985.9,55.5 987.3,54.9 988.8,54.1 990.3,53.2 991.8,52.3 992.5,51.9 993.4,51.5 994.9,50.7 996.4,49.9 997.9,49.2 999.1,48.6 999.4,48.5 1000.9,47.8 1002.4,47.1 1003.9,46.4 1005.4,45.7 1005.7,45.6 1006.9,45.1 1008.4,44.5 1009.9,44.0 1011.4,43.4 1012.3,43.0 1012.9,42.7 1014.4,42.0 1015.0,41.7 1015.9,41.2 1017.4,40.3 1019.0,39.4 1020.5,38.4 1022.0,37.5 1022.2,37.3 1023.5,36.5 1025.0,35.5 1026.5,34.5 1028.0,33.5 1029.4,32.6 1029.5,32.5 1031.0,31.6 1032.5,30.6 1034.0,29.6 1035.5,28.6 1036.7,27.9 1037.0,27.7 1038.5,26.8 1040.0,26.0 1041.5,25.1 1043.0,24.4 1043.9,24.0 1044.5,23.7 1046.1,23.2 1047.6,22.6 1049.1,22.1 1050.6,21.6 1051.1,21.4 1052.1,21.0 1053.6,20.4 1055.1,19.7 1056.6,19.1 1058.1,18.3 1058.3,18.2 1059.6,17.4 1061.1,16.4 1062.6,15.3 1064.1,14.3 1065.6,13.5 1065.6,13.5 1067.1,12.9 1068.4,12.6 1068.6,12.6 1070.1,12.6 1071.7,12.6 1073.2,12.6 1074.7,12.6 1076.2,12.6 1077.7,12.6 1078.6,12.6 1079.2,12.6 1080.7,13.0 1082.2,13.5 1083.6,13.9 1083.7,13.9 1085.2,14.3 1086.7,14.8 1087.2,14.9 1088.2,15.2 1089.7,15.7 1091.2,16.2 1092.7,16.8 1094.2,17.4 1094.4,17.5 1095.7,18.2 1097.3,19.0 1098.8,19.9 1100.3,20.9 1101.7,21.8 1101.8,21.8 1103.3,22.9 1104.8,24.0 1106.3,25.2 1107.8,26.4 1108.9,27.2 1109.3,27.5 1110.8,28.6 1112.3,29.8 1113.8,30.9 1115.3,32.0 1116.1,32.6 1116.8,33.1 1118.3,34.1 1119.8,35.1 1121.3,36.1 1122.8,37.1 1124.4,38.0 1125.0,38.4 1125.9,38.9 1127.4,39.7 1128.9,40.6 1129.8,41.1 1130.4,41.4 1131.9,42.3 1133.4,43.2 1134.9,44.0 1136.4,44.9 1137.9,45.8 1139.4,46.7 1140.9,47.6 1142.4,48.5 1143.0,48.8 1143.9,49.4 1145.4,50.3 1146.9,51.2 1148.4,52.1 1149.6,52.7 1150.0,52.9 1151.5,53.7 1153.0,54.5 1154.5,55.2 1156.0,55.7 1156.1,55.7 1157.5,56.0 1159.0,56.2 1160.5,56.4 1162.0,56.6 1162.7,56.7 1163.5,56.8 1165.0,57.1 1166.5,57.4 1168.0,57.6 1169.3,57.8 1169.5,57.8 1171.0,58.0 1172.5,58.2 1174.0,58.4 1175.6,58.6 1175.9,58.6 1177.1,58.7 1178.6,58.9 1180.1,59.1 1181.6,59.3 1183.1,59.4 1184.6,59.6 1186.1,59.8 1187.5,59.9 1187.6,59.9 1189.1,60.1 1190.6,60.2 1192.1,60.4 1193.6,60.5 1195.1,60.6 1195.7,60.6 1196.6,60.6 1198.1,60.6 1199.6,60.6 1201.1,60.6 1202.7,60.6 1204.2,60.6 1205.7,60.6 1207.2,60.6 1208.7,60.6 1210.2,60.6 1211.7,60.6 1213.2,60.6 1214.7,60.6 L1214.7,60.6 1213.2,60.6 1211.7,60.6 1210.2,60.6 1208.7,60.6 1207.2,60.6 1205.7,60.6 1204.2,60.6 1202.7,60.6 1201.1,60.6 1199.6,60.6 1198.1,60.6 1196.6,60.6 1195.7,60.6 1195.1,60.6 1193.6,60.7 1192.1,60.8 1190.6,61.0 1189.1,61.1 1187.6,61.3 1187.5,61.3 1186.1,61.4 1184.6,61.6 1183.1,61.8 1181.6,61.9 1180.1,62.1 1178.6,62.3 1177.1,62.5 1175.9,62.6 1175.6,62.6 1174.0,62.8 1172.5,63.0 1171.0,63.2 1169.5,63.4 1169.3,63.4 1168.0,63.6 1166.5,63.8 1165.0,64.1 1163.5,64.4 1162.7,64.5 1162.0,64.6 1160.5,64.8 1159.0,65.0 1157.5,65.2 1156.1,65.5 1156.0,65.5 1154.5,66.0 1153.0,66.7 1151.5,67.5 1150.0,68.3 1149.6,68.5 1148.4,69.1 1146.9,70.0 1145.4,70.9 1143.9,71.8 1143.0,72.4 1142.4,72.7 1140.9,73.6 1139.4,74.5 1137.9,75.4 1136.4,76.3 1134.9,77.2 1133.4,78.0 1131.9,78.9 1130.4,79.8 1129.8,80.1 1128.9,80.6 1127.4,81.5 1125.9,82.3 1125.0,82.8 1124.4,83.2 1122.8,84.1 1121.3,85.1 1119.8,86.1 1118.3,87.1 1116.8,88.1 1116.1,88.6 1115.3,89.2 1113.8,90.3 1112.3,91.4 1110.8,92.6 1109.3,93.7 1108.9,94.0 1107.8,94.8 1106.3,96.0 1104.8,97.2 1103.3,98.3 1101.8,99.4 1101.7,99.4 1100.3,100.3 1098.8,101.3 1097.3,102.2 1095.7,103.0 1094.4,103.7 1094.2,103.8 1092.7,104.4 1091.2,105.0 1089.7,105.5 1088.2,106.0 1087.2,106.3 1086.7,106.4 1085.2,106.9 1083.7,107.3 1083.6,107.3 1082.2,107.7 1080.7,108.2 1079.2,108.6 1078.6,108.6 1077.7,108.6 1076.2,108.6 1074.7,108.6 1073.2,108.6 1071.7,108.6 1070.1,108.6 1068.6,108.6 1068.4,108.6 1067.1,108.3 1065.6,107.7 1065.6,107.7 1064.1,106.9 1062.6,105.9 1061.1,104.8 1059.6,103.8 1058.3,103.0 1058.1,102.9 1056.6,102.1 1055.1,101.5 1053.6,100.8 1052.1,100.2 1051.1,99.8 1050.6,99.6 1049.1,99.1 1047.6,98.6 1046.1,98.0 1044.5,97.5 1043.9,97.2 1043.0,96.8 1041.5,96.1 1040.0,95.2 1038.5,94.4 1037.0,93.5 1036.7,93.3 1035.5,92.6 1034.0,91.6 1032.5,90.6 1031.0,89.6 1029.5,88.7 1029.4,88.6 1028.0,87.7 1026.5,86.7 1025.0,85.7 1023.5,84.7 1022.2,83.9 1022.0,83.7 1020.5,82.8 1019.0,81.8 1017.4,80.9 1015.9,80.0 1015.0,79.5 1014.4,79.2 1012.9,78.5 1012.3,78.2 1011.4,77.8 1009.9,77.2 1008.4,76.7 1006.9,76.1 1005.7,75.6 1005.4,75.5 1003.9,74.8 1002.4,74.1 1000.9,73.4 999.4,72.7 999.1,72.6 997.9,72.0 996.4,71.3 994.9,70.5 993.4,69.7 992.5,69.3 991.8,68.9 990.3,68.0 988.8,67.1 987.3,66.3 985.9,65.7 985.8,65.7 984.3,65.3 982.8,64.9 981.3,64.6 979.8,64.3 978.3,64.1 976.8,63.8 976.0,63.7 975.3,63.6 973.8,63.4 972.3,63.2 970.8,63.0 969.3,62.9 967.8,62.7 966.2,62.5 966.1,62.5 964.7,62.4 963.2,62.3 961.7,62.2 960.2,62.1 958.7,61.9 957.2,61.7 955.7,61.4 955.6,61.4 955.0,60.6 954.2,60.6 952.7,60.6 951.2,60.6 949.7,60.6 948.2,60.6 946.7,60.6 945.2,60.6 943.7,60.6 942.2,60.6 940.7,60.6 939.1,60.6 937.6,60.6 936.1,60.6 934.6,60.6 933.1,60.6 931.6,60.6 930.1,60.6 928.6,60.6 927.1,60.6 Z" fill="#000" stroke="#000" stroke-width="1" stroke-linejoin="round"/>
<path d="M1042.9,158.6 1044.4,158.6 1045.9,158.6 1047.4,158.6 1048.9,158.6 1050.4,158.6 1051.9,158.6 1053.4,158.6 1054.9,158.6 1056.4,158.6 1057.9,158.6 1059.4,158.6 1060.9,158.6 1062.4,158.6 1063.9,158.6 1065.4,158.6 1066.9,158.6 1068.4,158.6 1069.9,158.6 1071.2,158.6 1071.4,158.6 1072.9,158.4 1074.4,158.2 1075.9,158.0 1076.5,157.9 1077.4,157.7 1078.9,157.4 1080.5,157.1 1082.0,156.8 1083.5,156.4 1085.0,156.0 1086.4,155.6 1086.5,155.5 1088.0,155.0 1089.5,154.5 1091.0,153.8 1092.5,153.2 1093.0,153.0 1094.0,152.5 1095.5,151.9 1097.0,151.2 1098.5,150.4 1099.6,149.9 1100.0,149.7 1101.5,148.8 1103.0,147.9 1104.5,147.0 1106.0,146.1 1106.1,146.1 1107.5,145.3 1109.0,144.5 1110.0,143.9 1110.5,143.5 1112.0,142.5 1113.5,141.4 1115.0,140.3 1116.5,139.2 1117.2,138.7 1118.0,138.1 1119.5,137.1 1121.0,136.1 1122.5,135.0 1124.0,133.9 1124.4,133.7 1125.5,132.8 1127.0,131.6 1128.5,130.4 1130.0,129.2 1131.5,127.9 1131.7,127.8 1133.0,126.6 1134.5,125.2 1136.0,123.9 1137.5,122.5 1138.9,121.3 1139.0,121.1 1140.5,119.8 1142.0,118.5 1143.5,117.2 1145.0,116.0 1146.1,115.2 1146.5,114.8 1148.0,113.6 1149.5,112.5 1151.0,111.7 1151.9,111.6 1152.5,111.6 1154.0,111.6 1155.6,111.6 1157.1,111.6 1158.6,111.6 1160.1,111.6 1160.6,111.6 1161.6,111.5 1163.1,111.2 1164.6,110.8 1166.1,110.6 1166.3,110.6 1167.6,110.6 1169.1,110.6 1170.6,110.6 1172.1,110.6 1173.6,110.6 1175.0,110.6 1175.1,110.6 1176.6,111.2 1178.1,112.5 1178.6,113.0 1179.6,113.9 1181.1,115.7 1182.2,117.0 1182.6,117.3 1184.1,118.8 1185.6,120.1 1187.1,121.4 1188.6,122.7 1189.4,123.5 1190.1,124.1 1191.6,125.6 1193.1,127.1 1194.6,128.6 1196.1,130.1 1196.7,130.7 1197.6,131.5 1199.1,133.0 1200.6,134.5 1202.1,135.9 1203.6,137.3 1203.9,137.6 1205.1,138.7 1206.6,140.0 1208.1,141.3 1209.6,142.6 1211.1,143.8 1211.1,143.8 1212.6,145.0 1214.1,146.1 1215.6,147.3 1217.1,148.3 1218.0,148.9 1218.6,149.3 1220.1,150.2 1221.6,151.0 1223.1,151.7 1224.6,152.4 1224.6,152.4 1226.1,152.9 1227.6,153.3 1229.1,153.7 1230.7,154.1 1231.1,154.3 1232.2,154.5 1233.7,155.0 1235.2,155.3 1236.7,155.7 1237.7,156.0 1238.2,156.1 1239.7,156.4 1241.2,156.7 1242.7,157.0 1244.2,157.2 1244.3,157.3 1245.7,157.4 1247.2,157.5 1248.7,157.6 1250.2,157.8 1250.9,157.9 1251.7,158.0 1253.2,158.4 1254.2,158.6 1254.7,158.6 1256.2,158.6 1257.7,158.6 1259.2,158.6 1260.7,158.6 1262.2,158.6 1263.7,158.6 1265.2,158.6 1266.7,158.6 L1266.7,158.6 1265.2,158.6 1263.7,158.6 1262.2,158.6 1260.7,158.6 1259.2,158.6 1257.7,158.6 1256.2,158.6 1254.7,158.6 1254.2,158.6 1253.2,158.7 1251.7,159.1 1250.9,159.3 1250.2,159.3 1248.7,159.5 1247.2,159.6 1245.7,159.7 1244.3,159.9 1244.2,159.9 1242.7,160.1 1241.2,160.4 1239.7,160.7 1238.2,161.1 1237.7,161.2 1236.7,161.4 1235.2,161.8 1233.7,162.2 1232.2,162.6 1231.1,162.9 1230.7,163.0 1229.1,163.4 1227.6,163.8 1226.1,164.2 1224.6,164.7 1224.6,164.8 1223.1,165.4 1221.6,166.1 1220.1,167.0 1218.6,167.9 1218.0,168.3 1217.1,168.8 1215.6,169.9 1214.1,171.0 1212.6,172.1 1211.1,173.3 1211.1,173.4 1209.6,174.6 1208.1,175.8 1206.6,177.1 1205.1,178.5 1203.9,179.6 1203.6,179.8 1202.1,181.2 1200.6,182.7 1199.1,184.1 1197.6,185.6 1196.7,186.5 1196.1,187.0 1194.6,188.5 1193.1,190.0 1191.6,191.5 1190.1,193.0 1189.4,193.7 1188.6,194.4 1187.1,195.7 1185.6,197.0 1184.1,198.4 1182.6,199.8 1182.2,200.2 1181.1,201.4 1179.6,203.2 1178.6,204.2 1178.1,204.6 1176.6,205.9 1175.1,206.6 1175.0,206.6 1173.6,206.6 1172.1,206.6 1170.6,206.6 1169.1,206.6 1167.6,206.6 1166.3,206.6 1166.1,206.6 1164.6,206.3 1163.1,206.0 1161.6,205.6 1160.6,205.6 1160.1,205.6 1158.6,205.6 1157.1,205.6 1155.6,205.6 1154.0,205.6 1152.5,205.6 1151.9,205.6 1151.0,205.4 1149.5,204.7 1148.0,203.5 1146.5,202.3 1146.1,202.0 1145.0,201.2 1143.5,199.9 1142.0,198.6 1140.5,197.3 1139.0,196.0 1138.9,195.9 1137.5,194.6 1136.0,193.3 1134.5,191.9 1133.0,190.5 1131.7,189.4 1131.5,189.2 1130.0,187.9 1128.5,186.7 1127.0,185.5 1125.5,184.3 1124.4,183.5 1124.0,183.2 1122.5,182.1 1121.0,181.1 1119.5,180.0 1118.0,179.0 1117.2,178.5 1116.5,178.0 1115.0,176.8 1113.5,175.7 1112.0,174.6 1110.5,173.6 1110.0,173.3 1109.0,172.7 1107.5,171.8 1106.1,171.1 1106.0,171.0 1104.5,170.1 1103.0,169.2 1101.5,168.3 1100.0,167.5 1099.6,167.3 1098.5,166.7 1097.0,166.0 1095.5,165.3 1094.0,164.6 1093.0,164.2 1092.5,163.9 1091.0,163.3 1089.5,162.7 1088.0,162.1 1086.5,161.6 1086.4,161.6 1085.0,161.1 1083.5,160.7 1082.0,160.4 1080.5,160.0 1078.9,159.7 1077.4,159.4 1076.5,159.3 1075.9,159.2 1074.4,158.9 1072.9,158.7 1071.4,158.6 1071.2,158.6 1069.9,158.6 1068.4,158.6 1066.9,158.6 1065.4,158.6 1063.9,158.6 1062.4,158.6 1060.9,158.6 1059.4,158.6 1057.9,158.6 1056.4,158.6 1054.9,158.6 1053.4,158.6 1051.9,158.6 1050.4,158.6 1048.9,158.6 1047.4,158.6 1045.9,158.6 1044.4,158.6 1042.9,158.6 Z" fill="#000" stroke="#000" stroke-width="1" stroke-linejoin="round"/>
<path d="M1103.1,256.5 1104.6,256.5 1106.1,256.5 1107.6,256.5 1109.1,256.5 1110.6,256.5 1112.1,256.5 1113.6,256.5 1115.1,256.5 1116.6,256.5 1118.1,256.5 1119.6,256.5 1121.1,256.5 1122.6,256.5 1124.1,256.5 1125.6,256.5 1127.1,256.5 1128.6,256.5 1130.1,256.5 1130.8,256.5 1131.6,256.5 1133.2,256.3 1134.7,256.0 1135.5,255.8 1136.2,255.7 1137.7,255.5 1139.2,255.3 1140.7,255.0 1141.4,254.9 1142.2,254.8 1143.7,254.5 1145.2,254.2 1146.7,253.8 1148.0,253.5 1148.2,253.5 1149.7,253.1 1151.2,252.7 1152.7,252.3 1154.2,251.8 1154.6,251.6 1155.7,251.2 1157.2,250.5 1158.7,249.7 1160.2,248.8 1161.1,248.3 1161.7,248.0 1163.2,247.0 1164.7,246.1 1166.2,245.0 1167.7,243.7 1167.7,243.7 1169.2,242.1 1170.0,241.2 1170.7,240.5 1172.2,239.2 1173.7,238.0 1175.2,236.8 1176.7,235.6 1177.2,235.2 1178.2,234.4 1179.7,233.2 1181.2,232.1 1182.7,230.9 1184.2,229.7 1184.4,229.5 1185.7,228.3 1187.2,226.9 1188.7,225.5 1190.2,224.1 1191.7,222.8 1191.8,222.8 1193.3,221.6 1194.8,220.4 1196.3,219.3 1197.8,218.2 1198.9,217.4 1199.3,217.2 1200.8,216.1 1202.3,215.0 1203.8,214.0 1205.3,213.0 1206.1,212.4 1206.8,211.9 1208.3,210.8 1209.8,209.7 1211.3,208.9 1211.9,208.8 1212.8,208.8 1214.3,208.7 1215.8,208.6 1217.3,208.5 1218.8,208.5 1220.3,208.4 1221.8,208.4 1222.0,208.4 1223.3,208.4 1224.8,208.4 1226.3,208.4 1227.8,208.4 1229.3,208.5 1230.8,208.5 1232.1,208.5 1232.3,208.5 1233.8,209.1 1235.0,209.8 1235.3,210.0 1236.8,210.9 1238.3,212.0 1239.8,213.1 1241.3,214.2 1242.2,214.9 1242.8,215.4 1244.3,216.7 1245.8,218.0 1247.3,219.3 1248.8,220.6 1249.4,221.0 1250.3,221.8 1251.9,223.0 1253.4,224.2 1254.9,225.4 1256.4,226.6 1256.7,226.8 1257.9,227.6 1259.4,228.6 1260.9,229.5 1262.4,230.6 1263.9,231.7 1263.9,231.7 1265.4,233.1 1266.9,234.7 1268.4,236.4 1269.9,238.1 1271.1,239.3 1271.4,239.6 1272.9,241.1 1274.4,242.6 1275.9,244.0 1277.4,245.4 1278.9,246.7 1280.0,247.5 1280.4,247.8 1281.9,248.8 1283.0,249.4 1283.4,249.6 1284.9,250.2 1286.4,250.7 1287.9,251.1 1289.4,251.6 1289.6,251.6 1290.9,252.0 1292.4,252.4 1293.9,252.7 1295.4,253.1 1296.1,253.2 1296.9,253.4 1298.4,253.7 1299.9,254.0 1301.4,254.3 1302.7,254.5 1302.9,254.6 1304.4,254.8 1305.9,255.1 1307.4,255.3 1308.9,255.6 1310.3,255.8 1310.5,255.8 1312.0,256.2 1313.5,256.5 1314.0,256.5 1315.0,256.5 1316.5,256.5 1318.0,256.5 1319.5,256.5 1321.0,256.5 1322.5,256.5 1324.0,256.5 1325.5,256.5 1327.0,256.5 1328.5,256.5 1330.0,256.5 1331.5,256.5 1333.0,256.5 1334.5,256.5 1336.0,256.5 1337.5,256.5 1339.0,256.5 L1339.0,256.5 1337.5,256.5 1336.0,256.5 1334.5,256.5 1333.0,256.5 1331.5,256.5 1330.0,256.5 1328.5,256.5 1327.0,256.5 1325.5,256.5 1324.0,256.5 1322.5,256.5 1321.0,256.5 1319.5,256.5 1318.0,256.5 1316.5,256.5 1315.0,256.5 1314.0,256.5 1313.5,256.5 1312.0,256.8 1310.5,257.2 1310.3,257.2 1308.9,257.5 1307.4,257.7 1305.9,258.0 1304.4,258.2 1302.9,258.5 1302.7,258.5 1301.4,258.8 1299.9,259.0 1298.4,259.3 1296.9,259.6 1296.1,259.8 1295.4,260.0 1293.9,260.3 1292.4,260.7 1290.9,261.1 1289.6,261.4 1289.4,261.5 1287.9,261.9 1286.4,262.3 1284.9,262.8 1283.4,263.4 1283.0,263.6 1281.9,264.2 1280.4,265.2 1280.0,265.5 1278.9,266.4 1277.4,267.6 1275.9,269.0 1274.4,270.5 1272.9,271.9 1271.4,273.4 1271.1,273.7 1269.9,275.0 1268.4,276.7 1266.9,278.4 1265.4,280.0 1263.9,281.3 1263.9,281.3 1262.4,282.5 1260.9,283.5 1259.4,284.4 1257.9,285.4 1256.7,286.2 1256.4,286.5 1254.9,287.6 1253.4,288.8 1251.9,290.0 1250.3,291.2 1249.4,292.0 1248.8,292.5 1247.3,293.8 1245.8,295.1 1244.3,296.4 1242.8,297.6 1242.2,298.1 1241.3,298.8 1239.8,300.0 1238.3,301.1 1236.8,302.1 1235.3,303.0 1235.0,303.2 1233.8,303.9 1232.3,304.5 1232.1,304.5 1230.8,304.5 1229.3,304.6 1227.8,304.6 1226.3,304.6 1224.8,304.6 1223.3,304.6 1222.0,304.6 1221.8,304.6 1220.3,304.6 1218.8,304.6 1217.3,304.5 1215.8,304.5 1214.3,304.4 1212.8,304.3 1211.9,304.2 1211.3,304.1 1209.8,303.4 1208.3,302.3 1206.8,301.1 1206.1,300.6 1205.3,300.1 1203.8,299.1 1202.3,298.0 1200.8,297.0 1199.3,295.9 1198.9,295.6 1197.8,294.8 1196.3,293.7 1194.8,292.6 1193.3,291.5 1191.8,290.3 1191.7,290.2 1190.2,289.0 1188.7,287.6 1187.2,286.1 1185.7,284.7 1184.4,283.5 1184.2,283.4 1182.7,282.2 1181.2,281.0 1179.7,279.8 1178.2,278.6 1177.2,277.8 1176.7,277.4 1175.2,276.2 1173.7,275.1 1172.2,273.8 1170.7,272.5 1170.0,271.8 1169.2,271.0 1167.7,269.3 1167.7,269.3 1166.2,268.1 1164.7,267.0 1163.2,266.0 1161.7,265.1 1161.1,264.7 1160.2,264.2 1158.7,263.3 1157.2,262.6 1155.7,261.9 1154.6,261.4 1154.2,261.3 1152.7,260.8 1151.2,260.3 1149.7,259.9 1148.2,259.6 1148.0,259.5 1146.7,259.2 1145.2,258.9 1143.7,258.5 1142.2,258.3 1141.4,258.1 1140.7,258.0 1139.2,257.8 1137.7,257.5 1136.2,257.3 1135.5,257.2 1134.7,257.1 1133.2,256.8 1131.6,256.6 1130.8,256.5 1130.1,256.5 1128.6,256.5 1127.1,256.5 1125.6,256.5 1124.1,256.5 1122.6,256.5 1121.1,256.5 1119.6,256.5 1118.1,256.5 1116.6,256.5 1115.1,256.5 1113.6,256.5 1112.1,256.5 1110.6,256.5 1109.1,256.5 1107.6,256.5 1106.1,256.5 1104.6,256.5 1103.1,256.5 Z" fill="#000" stroke="#000" stroke-width="1" stroke-linejoin="round"/>
<rect x="1072.8" y="256.02" width="7.2" height="1" fill="#000"/>
<rect x="1345" y="256.02" width="7.9" height="1" fill="#000"/>
<path d="M1092.1,354.5 1093.6,354.5 1095.1,354.5 1096.6,354.5 1098.1,354.5 1099.6,354.5 1101.1,354.5 1102.6,354.5 1104.1,354.5 1105.7,354.5 1107.2,354.5 1108.7,354.5 1110.2,354.5 1111.7,354.5 1113.2,354.5 1114.7,354.5 1116.2,354.5 1117.7,354.5 1119.2,354.5 1119.8,354.5 1120.7,354.4 1122.2,354.1 1123.7,353.7 1125.1,353.5 1125.2,353.5 1126.7,353.3 1128.2,353.1 1129.7,353.0 1131.2,352.9 1132.8,352.8 1134.3,352.6 1135.2,352.5 1135.8,352.4 1137.3,352.1 1138.8,351.8 1140.3,351.5 1141.8,351.1 1143.3,350.6 1144.6,350.2 1144.8,350.1 1146.3,349.4 1147.8,348.5 1149.3,347.5 1150.8,346.5 1151.1,346.4 1152.3,345.7 1153.8,344.7 1155.0,344.0 1155.3,343.7 1156.8,342.6 1158.4,341.3 1159.9,340.0 1161.4,338.7 1162.2,338.0 1162.9,337.4 1164.4,336.2 1165.9,334.9 1167.4,333.7 1168.9,332.5 1169.4,332.1 1170.4,331.3 1171.9,330.1 1173.4,329.0 1174.9,327.8 1176.4,326.6 1176.7,326.4 1177.9,325.3 1179.4,324.0 1180.9,322.6 1182.4,321.2 1183.9,320.0 1184.0,319.9 1185.5,318.7 1187.0,317.4 1188.5,316.2 1190.0,315.0 1191.1,314.2 1191.5,313.9 1193.0,312.9 1194.5,311.9 1196.0,310.9 1197.5,310.0 1198.3,309.5 1199.0,309.0 1200.5,307.9 1202.0,307.1 1202.7,307.0 1203.5,306.9 1205.0,306.8 1206.5,306.7 1208.0,306.6 1209.5,306.6 1210.0,306.6 1211.1,306.6 1212.6,306.6 1214.1,306.7 1215.6,306.8 1217.1,307.0 1217.1,307.0 1218.6,307.4 1220.0,308.0 1220.1,308.0 1221.6,309.0 1223.1,310.3 1224.6,311.9 1226.1,313.5 1227.2,314.6 1227.6,315.0 1229.1,316.6 1230.6,318.3 1232.1,320.0 1233.6,321.7 1234.4,322.5 1235.1,323.2 1236.7,324.7 1238.2,326.2 1239.7,327.6 1241.2,329.1 1241.7,329.6 1242.7,330.5 1244.2,332.1 1245.7,333.6 1247.2,335.0 1248.7,336.4 1248.9,336.6 1250.2,337.7 1251.7,338.9 1253.2,340.0 1254.7,341.1 1256.1,342.1 1256.2,342.2 1257.7,343.2 1259.2,344.2 1260.7,345.1 1262.3,346.1 1263.8,346.9 1265.0,347.6 1265.3,347.7 1266.8,348.5 1268.3,349.2 1269.8,349.9 1271.1,350.3 1271.3,350.3 1272.8,350.7 1274.3,350.9 1275.8,351.2 1277.3,351.4 1277.7,351.5 1278.8,351.7 1280.3,352.0 1281.8,352.4 1283.3,352.7 1284.3,352.9 1284.8,353.0 1286.3,353.2 1287.8,353.4 1289.4,353.6 1290.2,353.8 1290.9,353.9 1292.4,354.2 1293.9,354.4 1294.9,354.5 1295.4,354.5 1296.9,354.5 1298.4,354.5 1299.9,354.5 1301.4,354.5 1302.9,354.5 1304.4,354.5 1305.9,354.5 1307.4,354.5 1308.9,354.5 1310.4,354.5 1311.9,354.5 1313.4,354.5 1315.0,354.5 1316.5,354.5 1318.0,354.5 1319.5,354.5 1321.0,354.5 1322.5,354.5 1324.0,354.5 1325.5,354.5 1327.0,354.5 L1327.0,354.5 1325.5,354.5 1324.0,354.5 1322.5,354.5 1321.0,354.5 1319.5,354.5 1318.0,354.5 1316.5,354.5 1315.0,354.5 1313.4,354.5 1311.9,354.5 1310.4,354.5 1308.9,354.5 1307.4,354.5 1305.9,354.5 1304.4,354.5 1302.9,354.5 1301.4,354.5 1299.9,354.5 1298.4,354.5 1296.9,354.5 1295.4,354.5 1294.9,354.5 1293.9,354.5 1292.4,354.8 1290.9,355.1 1290.2,355.2 1289.4,355.3 1287.8,355.5 1286.3,355.7 1284.8,356.0 1284.3,356.1 1283.3,356.3 1281.8,356.6 1280.3,356.9 1278.8,357.3 1277.7,357.5 1277.3,357.6 1275.8,357.8 1274.3,358.0 1272.8,358.3 1271.3,358.6 1271.1,358.7 1269.8,359.1 1268.3,359.7 1266.8,360.5 1265.3,361.2 1265.0,361.4 1263.8,362.0 1262.3,362.9 1260.7,363.8 1259.2,364.8 1257.7,365.8 1256.2,366.8 1256.1,366.9 1254.7,367.8 1253.2,368.9 1251.7,370.1 1250.2,371.3 1248.9,372.4 1248.7,372.6 1247.2,373.9 1245.7,375.4 1244.2,376.9 1242.7,378.4 1241.7,379.4 1241.2,379.9 1239.7,381.3 1238.2,382.8 1236.7,384.2 1235.1,385.7 1234.4,386.5 1233.6,387.3 1232.1,388.9 1230.6,390.7 1229.1,392.3 1227.6,394.0 1227.2,394.4 1226.1,395.5 1224.6,397.1 1223.1,398.6 1221.6,400.0 1220.1,400.9 1220.0,401.0 1218.6,401.6 1217.1,402.0 1217.1,402.0 1215.6,402.1 1214.1,402.2 1212.6,402.3 1211.1,402.4 1210.0,402.4 1209.5,402.4 1208.0,402.4 1206.5,402.3 1205.0,402.2 1203.5,402.1 1202.7,402.0 1202.0,401.8 1200.5,401.0 1199.0,399.9 1198.3,399.5 1197.5,399.0 1196.0,398.1 1194.5,397.1 1193.0,396.1 1191.5,395.1 1191.1,394.8 1190.0,393.9 1188.5,392.8 1187.0,391.6 1185.5,390.3 1184.0,389.0 1183.9,389.0 1182.4,387.7 1180.9,386.4 1179.4,385.0 1177.9,383.6 1176.7,382.6 1176.4,382.4 1174.9,381.1 1173.4,380.0 1171.9,378.8 1170.4,377.7 1169.4,376.9 1168.9,376.5 1167.4,375.3 1165.9,374.0 1164.4,372.8 1162.9,371.5 1162.2,371.0 1161.4,370.3 1159.9,369.0 1158.4,367.7 1156.8,366.4 1155.3,365.2 1155.0,365.0 1153.8,364.2 1152.3,363.3 1151.1,362.6 1150.8,362.4 1149.3,361.4 1147.8,360.5 1146.3,359.6 1144.8,358.9 1144.6,358.8 1143.3,358.3 1141.8,357.9 1140.3,357.5 1138.8,357.1 1137.3,356.8 1135.8,356.6 1135.2,356.5 1134.3,356.4 1132.8,356.2 1131.2,356.1 1129.7,355.9 1128.2,355.8 1126.7,355.7 1125.2,355.5 1125.1,355.5 1123.7,355.2 1122.2,354.8 1120.7,354.5 1119.8,354.5 1119.2,354.5 1117.7,354.5 1116.2,354.5 1114.7,354.5 1113.2,354.5 1111.7,354.5 1110.2,354.5 1108.7,354.5 1107.2,354.5 1105.7,354.5 1104.1,354.5 1102.6,354.5 1101.1,354.5 1099.6,354.5 1098.1,354.5 1096.6,354.5 1095.1,354.5 1093.6,354.5 1092.1,354.5 Z" fill="#000" stroke="#000" stroke-width="1" stroke-linejoin="round"/>
<path d="M1001.9,452.4 1003.4,452.4 1004.9,452.4 1006.4,452.4 1007.9,452.4 1009.4,452.4 1009.5,452.4 1010.9,452.4 1012.5,452.1 1014.0,451.9 1015.0,451.7 1015.5,451.7 1017.0,451.5 1018.5,451.3 1020.0,451.2 1021.5,451.0 1023.0,450.8 1024.0,450.6 1024.5,450.6 1026.0,450.3 1027.5,449.9 1028.0,449.8 1029.0,449.6 1030.5,449.2 1032.0,448.9 1033.6,448.4 1034.6,448.1 1035.1,448.0 1036.6,447.5 1038.1,447.0 1039.6,446.4 1041.1,445.8 1041.1,445.8 1042.6,445.3 1044.1,444.7 1045.6,444.0 1047.1,443.4 1047.7,443.1 1048.6,442.7 1050.1,442.1 1051.6,441.3 1052.0,441.1 1053.2,440.5 1054.7,439.6 1056.2,438.6 1057.7,437.5 1059.2,436.5 1059.2,436.4 1060.7,435.4 1062.2,434.2 1063.7,433.1 1065.2,431.9 1066.4,430.9 1066.7,430.7 1068.2,429.4 1069.7,428.1 1071.2,426.8 1072.7,425.4 1073.7,424.5 1074.3,424.0 1075.8,422.6 1077.3,421.1 1078.8,419.6 1080.3,418.2 1080.9,417.6 1081.8,416.9 1083.3,415.6 1084.8,414.4 1086.3,413.2 1087.8,412.0 1088.1,411.8 1089.3,410.9 1090.8,409.8 1092.3,408.8 1093.9,407.9 1095.3,407.1 1095.4,407.1 1096.9,406.5 1098.4,405.9 1099.9,405.4 1101.4,405.0 1102.6,404.6 1102.9,404.6 1104.4,404.2 1105.9,403.9 1106.2,403.9 1107.4,404.0 1108.9,404.2 1110.4,404.5 1111.9,404.9 1113.4,405.3 1113.5,405.4 1115.0,406.3 1116.5,407.5 1117.0,407.8 1118.0,408.4 1119.5,409.3 1121.0,410.1 1122.5,410.9 1124.0,411.7 1124.2,411.8 1125.5,412.6 1127.0,413.5 1128.5,414.4 1130.0,415.3 1131.4,416.1 1131.5,416.2 1133.0,417.1 1134.6,418.0 1136.1,418.8 1137.6,419.8 1138.7,420.5 1139.1,420.8 1140.6,422.0 1142.1,423.3 1143.6,424.7 1145.1,426.0 1145.9,426.7 1146.6,427.4 1148.1,428.7 1149.6,430.1 1151.1,431.5 1152.6,432.8 1153.1,433.1 1154.2,434.0 1155.7,435.1 1157.2,436.2 1158.7,437.3 1160.2,438.4 1161.7,439.4 1162.0,439.6 1163.2,440.5 1164.7,441.5 1166.2,442.4 1166.4,442.5 1167.7,443.3 1169.2,444.1 1170.7,444.8 1172.2,445.5 1173.0,445.8 1173.7,446.1 1175.3,446.7 1176.8,447.3 1178.3,447.8 1179.6,448.2 1179.8,448.3 1181.3,448.7 1182.8,449.2 1184.3,449.6 1185.8,449.9 1186.1,449.9 1187.3,450.1 1188.8,450.4 1190.3,450.5 1191.8,450.7 1192.7,450.8 1193.3,450.9 1194.9,451.1 1196.4,451.3 1197.9,451.5 1199.4,451.7 1199.7,451.7 1200.9,451.9 1202.4,452.2 1203.9,452.4 1205.3,452.4 1205.4,452.4 1206.9,452.4 1208.4,452.4 1209.9,452.4 1211.4,452.4 1212.9,452.4 1214.4,452.4 1216.0,452.4 1217.5,452.4 1219.0,452.4 1220.5,452.4 1222.0,452.4 1223.5,452.4 1225.0,452.4 L1225.0,452.4 1223.5,452.4 1222.0,452.4 1220.5,452.4 1219.0,452.4 1217.5,452.4 1216.0,452.4 1214.4,452.4 1212.9,452.4 1211.4,452.4 1209.9,452.4 1208.4,452.4 1206.9,452.4 1205.4,452.4 1205.3,452.4 1203.9,452.5 1202.4,452.7 1200.9,453.0 1199.7,453.1 1199.4,453.2 1197.9,453.4 1196.4,453.6 1194.9,453.8 1193.3,454.0 1192.7,454.0 1191.8,454.2 1190.3,454.3 1188.8,454.5 1187.3,454.7 1186.1,454.9 1185.8,455.0 1184.3,455.3 1182.8,455.7 1181.3,456.1 1179.8,456.6 1179.6,456.6 1178.3,457.1 1176.8,457.6 1175.3,458.1 1173.7,458.7 1173.0,459.0 1172.2,459.4 1170.7,460.1 1169.2,460.8 1167.7,461.6 1166.4,462.3 1166.2,462.5 1164.7,463.4 1163.2,464.4 1162.0,465.2 1161.7,465.5 1160.2,466.5 1158.7,467.6 1157.2,468.6 1155.7,469.8 1154.2,470.9 1153.1,471.7 1152.6,472.1 1151.1,473.4 1149.6,474.8 1148.1,476.1 1146.6,477.5 1145.9,478.1 1145.1,478.8 1143.6,480.2 1142.1,481.6 1140.6,482.9 1139.1,484.1 1138.7,484.3 1137.6,485.1 1136.1,486.0 1134.6,486.9 1133.0,487.8 1131.5,488.7 1131.4,488.7 1130.0,489.6 1128.5,490.5 1127.0,491.4 1125.5,492.3 1124.2,493.0 1124.0,493.2 1122.5,494.0 1121.0,494.8 1119.5,495.6 1118.0,496.5 1117.0,497.0 1116.5,497.4 1115.0,498.6 1113.5,499.5 1113.4,499.5 1111.9,500.0 1110.4,500.4 1108.9,500.7 1107.4,500.9 1106.2,500.9 1105.9,500.9 1104.4,500.7 1102.9,500.3 1102.6,500.2 1101.4,499.9 1099.9,499.5 1098.4,499.0 1096.9,498.4 1095.4,497.8 1095.3,497.7 1093.9,497.0 1092.3,496.1 1090.8,495.0 1089.3,493.9 1088.1,493.0 1087.8,492.8 1086.3,491.7 1084.8,490.5 1083.3,489.3 1081.8,488.0 1080.9,487.2 1080.3,486.7 1078.8,485.3 1077.3,483.8 1075.8,482.3 1074.3,480.9 1073.7,480.3 1072.7,479.5 1071.2,478.1 1069.7,476.8 1068.2,475.5 1066.7,474.2 1066.4,473.9 1065.2,473.0 1063.7,471.8 1062.2,470.6 1060.7,469.5 1059.2,468.4 1059.2,468.4 1057.7,467.4 1056.2,466.3 1054.7,465.3 1053.2,464.4 1052.0,463.7 1051.6,463.6 1050.1,462.8 1048.6,462.1 1047.7,461.7 1047.1,461.5 1045.6,460.8 1044.1,460.2 1042.6,459.6 1041.1,459.0 1041.1,459.0 1039.6,458.5 1038.1,457.9 1036.6,457.4 1035.1,456.9 1034.6,456.7 1033.6,456.4 1032.0,456.0 1030.5,455.6 1029.0,455.3 1028.0,455.0 1027.5,454.9 1026.0,454.6 1024.5,454.3 1024.0,454.2 1023.0,454.1 1021.5,453.9 1020.0,453.7 1018.5,453.5 1017.0,453.4 1015.5,453.2 1015.0,453.1 1014.0,453.0 1012.5,452.7 1010.9,452.5 1009.5,452.4 1009.4,452.4 1007.9,452.4 1006.4,452.4 1004.9,452.4 1003.4,452.4 1001.9,452.4 Z" fill="#000" stroke="#000" stroke-width="1" stroke-linejoin="round"/>
<rect x="1230" y="451.94" width="6.5" height="1" fill="#000"/>
<path d="M1080.9,550.4 1082.4,550.4 1083.9,550.4 1085.4,550.4 1086.9,550.4 1088.4,550.4 1089.9,550.4 1091.4,550.4 1092.9,550.4 1094.4,550.4 1095.9,550.4 1097.4,550.4 1099.0,550.4 1099.4,550.4 1100.5,550.4 1102.0,550.3 1103.5,550.1 1105.0,549.9 1106.5,549.7 1106.6,549.7 1108.0,549.6 1109.5,549.5 1111.0,549.4 1112.5,549.3 1114.0,549.2 1115.5,549.0 1117.0,548.8 1117.2,548.8 1118.5,548.4 1120.0,547.8 1121.1,547.4 1121.5,547.3 1123.0,546.9 1124.5,546.6 1126.0,546.2 1127.5,545.8 1127.7,545.8 1129.0,545.4 1130.5,544.9 1132.1,544.4 1133.6,543.8 1134.3,543.5 1135.1,543.2 1136.6,542.4 1138.1,541.6 1139.6,540.8 1140.0,540.5 1141.1,539.8 1142.6,538.8 1144.1,537.6 1145.6,536.5 1147.1,535.3 1147.2,535.2 1148.6,534.1 1150.1,532.9 1151.6,531.6 1153.1,530.4 1154.4,529.3 1154.6,529.1 1156.1,527.9 1157.6,526.6 1159.1,525.4 1160.6,524.1 1161.7,523.2 1162.1,522.8 1163.6,521.5 1165.1,520.3 1166.7,519.0 1168.2,517.7 1168.9,517.0 1169.7,516.3 1171.2,514.9 1172.7,513.4 1174.2,512.1 1175.7,510.8 1176.1,510.5 1177.2,509.7 1178.7,508.7 1180.2,507.8 1181.7,506.9 1183.2,506.2 1183.3,506.2 1184.7,505.7 1186.2,505.2 1187.7,504.8 1189.2,504.4 1190.6,504.0 1190.7,504.0 1192.2,503.6 1193.7,503.2 1195.2,502.8 1196.7,502.4 1197.8,502.2 1198.2,502.1 1199.8,501.8 1201.3,501.6 1201.4,501.6 1202.8,501.8 1204.3,502.3 1205.0,502.6 1205.8,502.9 1207.3,503.9 1208.8,505.1 1210.3,506.4 1211.8,507.7 1212.2,508.0 1213.3,508.9 1214.8,510.2 1216.3,511.6 1217.8,513.0 1219.3,514.4 1219.4,514.5 1220.8,515.8 1222.3,517.3 1223.8,518.8 1225.3,520.3 1226.7,521.7 1226.8,521.8 1228.3,523.4 1229.8,525.1 1231.3,526.8 1232.9,528.4 1233.9,529.4 1234.4,529.8 1235.9,531.3 1237.4,532.6 1238.9,533.9 1240.4,535.1 1241.1,535.7 1241.9,536.3 1243.4,537.3 1244.9,538.3 1246.4,539.3 1247.9,540.2 1249.4,541.1 1250.0,541.4 1250.9,541.9 1252.4,542.7 1253.9,543.5 1254.6,543.8 1255.4,544.1 1256.9,544.7 1258.4,545.3 1259.9,545.7 1261.1,546.1 1261.4,546.2 1262.9,546.6 1264.4,547.0 1265.9,547.4 1267.5,547.7 1267.7,547.8 1269.0,548.0 1270.5,548.3 1272.0,548.5 1273.5,548.8 1274.3,548.9 1275.0,549.0 1276.5,549.3 1278.0,549.6 1278.3,549.7 1279.5,550.1 1281.0,550.4 1281.0,550.4 1282.5,550.4 1284.0,550.4 1285.5,550.4 1287.0,550.4 1288.5,550.4 1290.0,550.4 1291.5,550.4 1293.0,550.4 1294.5,550.4 1296.0,550.4 1297.5,550.4 1299.0,550.4 1300.6,550.4 1302.1,550.4 1303.6,550.4 1305.1,550.4 1306.6,550.4 1308.1,550.4 1309.6,550.4 1311.1,550.4 1312.6,550.4 1314.1,550.4 1315.6,550.4 1317.1,550.4 L1317.1,550.4 1315.6,550.4 1314.1,550.4 1312.6,550.4 1311.1,550.4 1309.6,550.4 1308.1,550.4 1306.6,550.4 1305.1,550.4 1303.6,550.4 1302.1,550.4 1300.6,550.4 1299.0,550.4 1297.5,550.4 1296.0,550.4 1294.5,550.4 1293.0,550.4 1291.5,550.4 1290.0,550.4 1288.5,550.4 1287.0,550.4 1285.5,550.4 1284.0,550.4 1282.5,550.4 1281.0,550.4 1281.0,550.4 1279.5,550.7 1278.3,551.1 1278.0,551.2 1276.5,551.5 1275.0,551.8 1274.3,551.9 1273.5,552.0 1272.0,552.3 1270.5,552.5 1269.0,552.8 1267.7,553.0 1267.5,553.1 1265.9,553.4 1264.4,553.8 1262.9,554.2 1261.4,554.6 1261.1,554.7 1259.9,555.1 1258.4,555.5 1256.9,556.1 1255.4,556.7 1254.6,557.0 1253.9,557.3 1252.4,558.1 1250.9,558.9 1250.0,559.4 1249.4,559.7 1247.9,560.6 1246.4,561.5 1244.9,562.5 1243.4,563.5 1241.9,564.5 1241.1,565.1 1240.4,565.7 1238.9,566.9 1237.4,568.2 1235.9,569.5 1234.4,571.0 1233.9,571.4 1232.9,572.4 1231.3,574.0 1229.8,575.7 1228.3,577.4 1226.8,579.0 1226.7,579.1 1225.3,580.5 1223.8,582.0 1222.3,583.5 1220.8,585.0 1219.4,586.3 1219.3,586.4 1217.8,587.8 1216.3,589.2 1214.8,590.6 1213.3,591.9 1212.2,592.8 1211.8,593.1 1210.3,594.4 1208.8,595.7 1207.3,596.9 1205.8,597.9 1205.0,598.2 1204.3,598.5 1202.8,599.0 1201.4,599.2 1201.3,599.2 1199.8,599.0 1198.2,598.7 1197.8,598.6 1196.7,598.4 1195.2,598.0 1193.7,597.6 1192.2,597.2 1190.7,596.8 1190.6,596.8 1189.2,596.4 1187.7,596.0 1186.2,595.6 1184.7,595.1 1183.3,594.6 1183.2,594.6 1181.7,593.9 1180.2,593.0 1178.7,592.1 1177.2,591.1 1176.1,590.3 1175.7,590.0 1174.2,588.7 1172.7,587.4 1171.2,585.9 1169.7,584.5 1168.9,583.8 1168.2,583.1 1166.7,581.8 1165.1,580.5 1163.6,579.3 1162.1,578.0 1161.7,577.6 1160.6,576.7 1159.1,575.4 1157.6,574.2 1156.1,572.9 1154.6,571.7 1154.4,571.5 1153.1,570.4 1151.6,569.2 1150.1,567.9 1148.6,566.7 1147.2,565.6 1147.1,565.5 1145.6,564.3 1144.1,563.2 1142.6,562.0 1141.1,561.0 1140.0,560.3 1139.6,560.0 1138.1,559.2 1136.6,558.4 1135.1,557.6 1134.3,557.3 1133.6,557.0 1132.1,556.4 1130.5,555.9 1129.0,555.4 1127.7,555.0 1127.5,555.0 1126.0,554.6 1124.5,554.2 1123.0,553.9 1121.5,553.5 1121.1,553.4 1120.0,553.0 1118.5,552.4 1117.2,552.0 1117.0,552.0 1115.5,551.8 1114.0,551.6 1112.5,551.5 1111.0,551.4 1109.5,551.3 1108.0,551.2 1106.6,551.1 1106.5,551.1 1105.0,550.9 1103.5,550.7 1102.0,550.5 1100.5,550.4 1099.4,550.4 1099.0,550.4 1097.4,550.4 1095.9,550.4 1094.4,550.4 1092.9,550.4 1091.4,550.4 1089.9,550.4 1088.4,550.4 1086.9,550.4 1085.4,550.4 1083.9,550.4 1082.4,550.4 1080.9,550.4 Z" fill="#000" stroke="#000" stroke-width="1" stroke-linejoin="round"/>
<path d="M1090.9,648.4 1092.4,648.4 1093.9,648.4 1095.4,648.4 1097.0,648.4 1098.5,648.4 1100.0,648.4 1101.5,648.4 1101.5,648.4 1103.0,648.1 1104.5,647.7 1104.8,647.7 1106.0,647.4 1107.5,647.1 1109.1,646.9 1110.6,646.6 1111.4,646.4 1112.1,646.2 1113.6,645.7 1115.1,645.2 1116.6,644.6 1118.0,644.1 1118.1,644.0 1119.6,643.4 1121.2,642.7 1122.7,641.9 1124.2,641.1 1125.2,640.6 1125.7,640.3 1127.2,639.4 1128.7,638.5 1130.2,637.5 1131.7,636.4 1132.4,635.9 1133.3,635.1 1134.8,633.7 1136.3,632.2 1137.8,630.6 1139.3,629.0 1139.7,628.6 1140.8,627.4 1142.3,625.9 1143.8,624.4 1145.4,622.8 1146.9,621.2 1146.9,621.2 1148.4,619.5 1149.9,617.7 1151.4,615.9 1152.9,614.2 1154.1,612.9 1154.4,612.5 1155.9,610.9 1157.5,609.4 1159.0,607.9 1160.5,606.4 1161.3,605.7 1162.0,605.0 1163.5,603.5 1165.0,602.0 1166.5,600.9 1167.1,600.7 1168.0,600.3 1169.6,599.8 1170.7,599.7 1171.1,599.7 1172.6,600.0 1174.1,600.6 1174.3,600.7 1175.6,601.5 1177.1,603.0 1178.6,604.5 1179.4,605.0 1180.1,605.3 1181.7,605.8 1183.2,606.2 1184.7,606.7 1186.2,607.3 1186.6,607.5 1187.7,608.2 1189.2,609.7 1190.2,610.8 1190.7,611.3 1192.2,612.9 1193.8,614.7 1195.3,616.5 1196.8,618.3 1197.4,619.1 1198.3,620.2 1199.8,622.2 1201.3,624.2 1202.8,626.2 1204.3,628.0 1204.7,628.5 1205.9,629.8 1207.4,631.5 1208.9,633.1 1210.4,634.6 1211.9,636.0 1211.9,636.0 1213.4,637.3 1214.9,638.5 1216.4,639.7 1218.0,640.7 1219.3,641.6 1219.5,641.7 1221.0,642.5 1222.5,643.4 1224.0,644.1 1225.5,644.7 1226.1,645.0 1227.0,645.3 1228.5,645.8 1230.1,646.2 1231.6,646.5 1232.7,646.8 1233.1,646.8 1234.6,647.1 1236.1,647.3 1237.6,647.5 1239.0,647.7 1239.1,647.7 1240.6,648.0 1242.2,648.3 1242.6,648.4 1243.7,648.4 1245.2,648.4 1246.7,648.4 1248.2,648.4 1249.7,648.4 1251.2,648.4 1252.7,648.4 1254.3,648.4 1255.8,648.4 1257.3,648.4 1258.8,648.4 L1258.8,648.4 1257.3,648.4 1255.8,648.4 1254.3,648.4 1252.7,648.4 1251.2,648.4 1249.7,648.4 1248.2,648.4 1246.7,648.4 1245.2,648.4 1243.7,648.4 1242.6,648.4 1242.2,648.4 1240.6,648.7 1239.1,649.0 1239.0,649.1 1237.6,649.3 1236.1,649.5 1234.6,649.7 1233.1,649.9 1232.7,650.0 1231.6,650.2 1230.1,650.5 1228.5,651.0 1227.0,651.4 1226.1,651.8 1225.5,652.0 1224.0,652.6 1222.5,653.4 1221.0,654.2 1219.5,655.1 1219.3,655.2 1218.0,656.0 1216.4,657.1 1214.9,658.2 1213.4,659.5 1211.9,660.8 1211.9,660.8 1210.4,662.1 1208.9,663.7 1207.4,665.3 1205.9,666.9 1204.7,668.3 1204.3,668.7 1202.8,670.5 1201.3,672.5 1199.8,674.6 1198.3,676.5 1197.4,677.7 1196.8,678.4 1195.3,680.2 1193.8,682.0 1192.2,683.8 1190.7,685.4 1190.2,686.0 1189.2,687.0 1187.7,688.5 1186.6,689.3 1186.2,689.5 1184.7,690.1 1183.2,690.5 1181.7,690.9 1180.1,691.4 1179.4,691.8 1178.6,692.3 1177.1,693.7 1175.6,695.2 1174.3,696.1 1174.1,696.1 1172.6,696.7 1171.1,697.0 1170.7,697.1 1169.6,696.9 1168.0,696.4 1167.1,696.1 1166.5,695.8 1165.0,694.7 1163.5,693.3 1162.0,691.7 1161.3,691.1 1160.5,690.3 1159.0,688.8 1157.5,687.3 1155.9,685.8 1154.4,684.2 1154.1,683.9 1152.9,682.6 1151.4,680.8 1149.9,679.0 1148.4,677.2 1146.9,675.6 1146.9,675.5 1145.4,673.9 1143.8,672.3 1142.3,670.8 1140.8,669.3 1139.7,668.2 1139.3,667.8 1137.8,666.2 1136.3,664.5 1134.8,663.0 1133.3,661.6 1132.4,660.9 1131.7,660.3 1130.2,659.3 1128.7,658.2 1127.2,657.3 1125.7,656.4 1125.2,656.2 1124.2,655.6 1122.7,654.8 1121.2,654.1 1119.6,653.4 1118.1,652.7 1118.0,652.7 1116.6,652.1 1115.1,651.5 1113.6,651.0 1112.1,650.5 1111.4,650.4 1110.6,650.2 1109.1,649.9 1107.5,649.6 1106.0,649.3 1104.8,649.1 1104.5,649.0 1103.0,648.6 1101.5,648.4 1101.5,648.4 1100.0,648.4 1098.5,648.4 1097.0,648.4 1095.4,648.4 1093.9,648.4 1092.4,648.4 1090.9,648.4 Z" fill="#000" stroke="#000" stroke-width="1" stroke-linejoin="round"/>
<rect x="994.1" y="58.25" width="161.9" height="4.7" fill="#00BFC4"/>
<rect x="1045.0" y="47.20" width="57.0" height="26.8" fill="#00BFC4"/>
<circle cx="1074.2" cy="60.60" r="7.3" fill="#000"/>
<rect x="1099.9" y="156.21" width="123.9" height="4.7" fill="#F8766D"/>
<rect x="1140.6" y="145.16" width="42.1" height="26.8" fill="#00BFC4"/>
<circle cx="1162.2" cy="158.56" r="7.3" fill="#000"/>
<rect x="1161.1" y="254.17" width="125.6" height="4.7" fill="#F8766D"/>
<rect x="1200.0" y="243.12" width="44.1" height="26.8" fill="#00BFC4"/>
<circle cx="1222.3" cy="256.52" r="7.3" fill="#000"/>
<rect x="1150.7" y="352.13" width="116.3" height="4.7" fill="#F8766D"/>
<rect x="1188.0" y="341.08" width="40.1" height="26.8" fill="#00BFC4"/>
<circle cx="1208.4" cy="354.48" r="7.3" fill="#000"/>
<rect x="1042.3" y="450.09" width="131.9" height="4.7" fill="#00BFC4"/>
<rect x="1085.9" y="439.04" width="45.1" height="26.8" fill="#00BFC4"/>
<circle cx="1107.7" cy="452.44" r="7.3" fill="#000"/>
<rect x="1131.3" y="548.05" width="124.8" height="4.7" fill="#F8766D"/>
<rect x="1173.8" y="537.00" width="41.2" height="26.8" fill="#F8766D"/>
<circle cx="1194.8" cy="550.40" r="7.3" fill="#000"/>
<rect x="1125.6" y="646.01" width="93.2" height="4.7" fill="#F8766D"/>
<rect x="1157.0" y="634.96" width="31.9" height="26.8" fill="#F8766D"/>
<circle cx="1172.6" cy="648.36" r="7.3" fill="#000"/>
<rect x="1183.53" y="702.80" width="4.45" height="4.20" fill="#fff"/>
<rect x="1183.53" y="685.02" width="4.45" height="4.45" fill="#fff"/>
<rect x="1183.53" y="667.24" width="4.45" height="4.45" fill="#fff"/>
<rect x="1183.53" y="649.46" width="4.45" height="4.45" fill="#fff"/>
<rect x="1183.53" y="631.68" width="4.45" height="4.45" fill="#fff"/>
<rect x="1183.53" y="613.90" width="4.45" height="4.45" fill="#fff"/>
<rect x="1183.53" y="596.12" width="4.45" height="4.45" fill="#fff"/>
<rect x="1183.53" y="578.34" width="4.45" height="4.45" fill="#fff"/>
<rect x="1183.53" y="560.56" width="4.45" height="4.45" fill="#fff"/>
<rect x="1183.53" y="542.78" width="4.45" height="4.45" fill="#fff"/>
<rect x="1183.53" y="525.00" width="4.45" height="4.45" fill="#fff"/>
<rect x="1183.53" y="507.22" width="4.45" height="4.45" fill="#fff"/>
<rect x="1183.53" y="489.44" width="4.45" height="4.45" fill="#fff"/>
<rect x="1183.53" y="471.66" width="4.45" height="4.45" fill="#fff"/>
<rect x="1183.53" y="453.88" width="4.45" height="4.45" fill="#fff"/>
<rect x="1183.53" y="436.10" width="4.45" height="4.45" fill="#fff"/>
<rect x="1183.53" y="418.32" width="4.45" height="4.45" fill="#fff"/>
<rect x="1183.53" y="400.54" width="4.45" height="4.45" fill="#fff"/>
<rect x="1183.53" y="382.76" width="4.45" height="4.45" fill="#fff"/>
<rect x="1183.53" y="364.98" width="4.45" height="4.45" fill="#fff"/>
<rect x="1183.53" y="347.20" width="4.45" height="4.45" fill="#fff"/>
<rect x="1183.53" y="329.42" width="4.45" height="4.45" fill="#fff"/>
<rect x="1183.53" y="311.64" width="4.45" height="4.45" fill="#fff"/>
<rect x="1183.53" y="293.86" width="4.45" height="4.45" fill="#fff"/>
<rect x="1183.53" y="276.08" width="4.45" height="4.45" fill="#fff"/>
<rect x="1183.53" y="258.30" width="4.45" height="4.45" fill="#fff"/>
<rect x="1183.53" y="240.52" width="4.45" height="4.45" fill="#fff"/>
<rect x="1183.53" y="222.74" width="4.45" height="4.45" fill="#fff"/>
<rect x="1183.53" y="204.96" width="4.45" height="4.45" fill="#fff"/>
<rect x="1183.53" y="187.18" width="4.45" height="4.45" fill="#fff"/>
<rect x="1183.53" y="169.40" width="4.45" height="4.45" fill="#fff"/>
<rect x="1183.53" y="151.62" width="4.45" height="4.45" fill="#fff"/>
<rect x="1183.53" y="133.84" width="4.45" height="4.45" fill="#fff"/>
<rect x="1183.53" y="116.06" width="4.45" height="4.45" fill="#fff"/>
<rect x="1183.53" y="98.28" width="4.45" height="4.45" fill="#fff"/>
<rect x="1183.53" y="80.50" width="4.45" height="4.45" fill="#fff"/>
<rect x="1183.53" y="62.72" width="4.45" height="4.45" fill="#fff"/>
<rect x="1183.53" y="44.94" width="4.45" height="4.45" fill="#fff"/>
<rect x="1183.53" y="27.16" width="4.45" height="4.45" fill="#fff"/>
<rect x="1183.53" y="9.38" width="4.45" height="4.45" fill="#fff"/>
</g>
<rect x="162.70" y="58.38" width="11.4" height="4.45" fill="#333"/>
<rect x="162.70" y="156.34" width="11.4" height="4.45" fill="#333"/>
<rect x="162.70" y="254.29" width="11.4" height="4.45" fill="#333"/>
<rect x="162.70" y="352.25" width="11.4" height="4.45" fill="#333"/>
<rect x="162.70" y="450.21" width="11.4" height="4.45" fill="#333"/>
<rect x="162.70" y="548.17" width="11.4" height="4.45" fill="#333"/>
<rect x="162.70" y="646.13" width="11.4" height="4.45" fill="#333"/>
<rect x="324.27" y="707.0" width="4.45" height="11.45" fill="#333"/>
<rect x="501.62" y="707.0" width="4.45" height="11.45" fill="#333"/>
<rect x="678.98" y="707.0" width="4.45" height="11.45" fill="#333"/>
<rect x="865.27" y="707.0" width="4.45" height="11.45" fill="#333"/>
<rect x="1024.38" y="707.0" width="4.45" height="11.45" fill="#333"/>
<rect x="1183.53" y="707.0" width="4.45" height="11.45" fill="#333"/>
<rect x="1342.68" y="707.0" width="4.45" height="11.45" fill="#333"/>
<rect x="1501.78" y="707.0" width="4.45" height="11.45" fill="#333"/>
<text class="tk" transform="translate(154.00,72.80) scale(1.006,1.04)" text-anchor="end">Intercept</text>
<text class="tk" transform="translate(154.00,170.80) scale(1.006,1.04)" text-anchor="end">alertingN</text>
<text class="tk" transform="translate(154.00,268.80) scale(1.006,1.04)" text-anchor="end">alertingX</text>
<text class="tk" transform="translate(154.00,365.80) scale(1.006,1.04)" text-anchor="end">orientingN</text>
<text class="tk" transform="translate(154.00,463.80) scale(1.006,1.04)" text-anchor="end">orientingX</text>
<text class="tk" transform="translate(154.00,561.80) scale(1.006,1.04)" text-anchor="end">Flankers</text>
<text class="tk" transform="translate(154.00,659.80) scale(1.006,1.04)" text-anchor="end">sStroop</text>
<text class="tk" transform="translate(326.50,752.30) scale(1.006,1.04)" text-anchor="middle">-0.4</text>
<text class="tk" transform="translate(503.85,752.30) scale(1.006,1.04)" text-anchor="middle">0.0</text>
<text class="tk" transform="translate(681.20,752.30) scale(1.006,1.04)" text-anchor="middle">0.4</text>
<text class="tk" transform="translate(867.50,752.30) scale(1.006,1.04)" text-anchor="middle">-40</text>
<text class="tk" transform="translate(1026.60,752.30) scale(1.006,1.04)" text-anchor="middle">-20</text>
<text class="tk" transform="translate(1185.75,752.30) scale(1.006,1.04)" text-anchor="middle">0</text>
<text class="tk" transform="translate(1344.90,752.30) scale(1.006,1.04)" text-anchor="middle">20</text>
<text class="tk" transform="translate(1504.00,752.30) scale(1.006,1.04)" text-anchor="middle">40</text>
<text class="ti" transform="translate(503.45,809.90) scale(1.006,1.04)" text-anchor="middle">ER (log-odds)</text>
<text class="ti" transform="translate(1186.30,809.90) scale(1.006,1.04)" text-anchor="middle">RT (ms)</text>
</svg></body></html>
